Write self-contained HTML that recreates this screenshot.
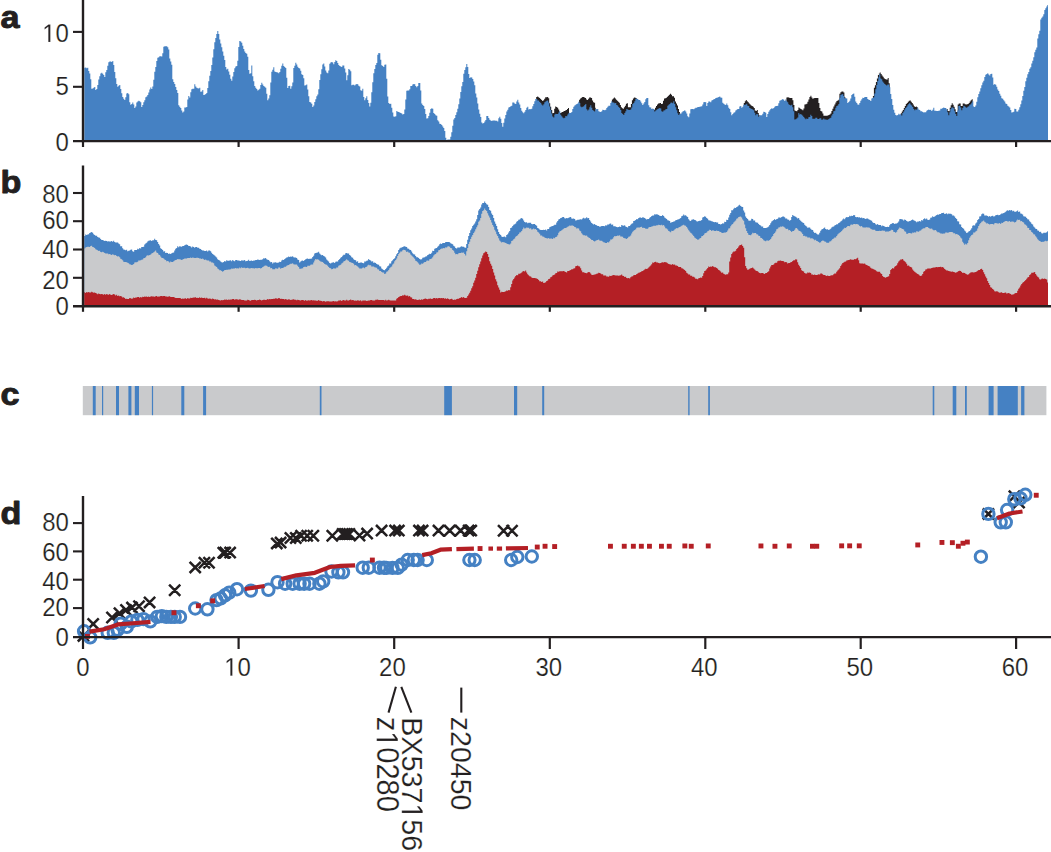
<!DOCTYPE html>
<html><head><meta charset="utf-8"><title>Figure</title>
<style>
html,body{margin:0;padding:0;background:#fff;}
body{width:1051px;height:852px;position:relative;overflow:hidden;font-family:"Liberation Sans",sans-serif;}
.t{font-family:"Liberation Sans",sans-serif;fill:#231f20;stroke:#fff;stroke-width:0.2;}
.g1{fill:#231f20;stroke:#fff;stroke-width:0.2;vector-effect:non-scaling-stroke;}
.tb{font-family:"Liberation Sans",sans-serif;font-weight:bold;fill:#231f20;stroke:#231f20;stroke-width:0.9;stroke-linejoin:round;}
</style></head><body>
<svg width="1051" height="852" viewBox="0 0 1051 852" style="position:absolute;left:0;top:0">
<rect width="1051" height="852" fill="#fff"/>
<path d="M536.2,141L536.2,96.9L537.2,96.9L537.2,96.6L538.2,96.6L538.2,97.3L539.2,97.3L539.2,98L540.2,98L540.2,99L541.2,99L541.2,100L542.2,100L542.2,101L543.2,101L543.2,100.2L544.2,100.2L544.2,98.7L545.2,98.7L545.2,97.3L546.2,97.3L546.2,97.2L547.2,97.2L547.2,97.1L548.2,97.1L548.2,98.2L549.2,98.2L549.2,103.2L550.2,103.2L550.2,106.8L551.2,106.8L551.2,110.1L552.2,110.1L552.2,113.3L553.2,113.3L553.2,112.9L554.2,112.9L554.2,108.7L555.2,108.7L555.2,106.6L556.2,106.6L556.2,106.9L557.2,106.9L557.2,107.7L558.2,107.7L558.2,109.6L559.2,109.6L559.2,111.5L559.7,111.5L559.7,141Z" fill="#231f20" />
<path d="M560,141L560,112.9L561,112.9L561,112.4L562,112.4L562,111.9L563,111.9L563,111.4L564,111.4L564,110.9L565,110.9L565,110.4L566,110.4L566,109.9L567,109.9L567,109.1L568,109.1L568,108.1L569,108.1L569,113.2L569.4,113.2L569.4,141Z" fill="#231f20" />
<path d="M579.1,141L579.1,99.7L580.1,99.7L580.1,98.4L581.1,98.4L581.1,97.7L582.1,97.7L582.1,97L583.1,97L583.1,97L584.1,97L584.1,97.4L585.1,97.4L585.1,97.9L586.1,97.9L586.1,99.4L587.1,99.4L587.1,100L588.1,100L588.1,98.8L589.1,98.8L589.1,97.6L590.1,97.6L590.1,97.6L591.1,97.6L591.1,98.1L592.1,98.1L592.1,100.6L593.1,100.6L593.1,102.3L594.1,102.3L594.1,102.8L595.1,102.8L595.1,107.7L595.7,107.7L595.7,141Z" fill="#231f20" />
<path d="M611.9,141L611.9,99.6L612.9,99.6L612.9,98.5L613.9,98.5L613.9,97.4L614.9,97.4L614.9,98.5L615.9,98.5L615.9,99.7L616.9,99.7L616.9,100.8L617.9,100.8L617.9,101.8L618.9,101.8L618.9,102.8L619.9,102.8L619.9,105.1L620.9,105.1L620.9,107.3L621.9,107.3L621.9,108.2L622.9,108.2L622.9,108.8L623.9,108.8L623.9,107.3L624.9,107.3L624.9,105.7L625.9,105.7L625.9,103.8L626.9,103.8L626.9,103.2L627.9,103.2L627.9,107.2L628.9,107.2L628.9,107.2L629.9,107.2L629.9,107.2L630.9,107.2L630.9,104.1L631.9,104.1L631.9,100.3L632.9,100.3L632.9,98.5L633.9,98.5L633.9,97.5L634.9,97.5L634.9,97.8L635.9,97.8L635.9,98.1L636.6,98.1L636.6,141Z" fill="#231f20" />
<path d="M654,141L654,109.8L655,109.8L655,107.8L656,107.8L656,106L657,106L657,104.5L658,104.5L658,103.6L659,103.6L659,103.3L660,103.3L660,103L661,103L661,104L662,104L662,103.7L663,103.7L663,100.8L664,100.8L664,98.6L665,98.6L665,98.2L666,98.2L666,97.8L667,97.8L667,96.8L668,96.8L668,95.8L669,95.8L669,94.8L670,94.8L670,93.8L671,93.8L671,94.8L672,94.8L672,96.2L673,96.2L673,96.2L674,96.2L674,97.7L675,97.7L675,101.4L676,101.4L676,103.5L677,103.5L677,105.6L678,105.6L678,109.1L679,109.1L679,112L680,112L680,113L680.2,113L680.2,141Z" fill="#231f20" />
<path d="M743.8,141L743.8,102.9L744.8,102.9L744.8,101.3L745.8,101.3L745.8,100.1L746.8,100.1L746.8,101.2L747.8,101.2L747.8,102.3L748.8,102.3L748.8,103.4L749.8,103.4L749.8,104.4L750.8,104.4L750.8,105.4L751.8,105.4L751.8,106.1L752.8,106.1L752.8,106.8L753.8,106.8L753.8,108L754.8,108L754.8,110.5L755.8,110.5L755.8,110.9L756.8,110.9L756.8,109.9L757.8,109.9L757.8,113.1L758.8,113.1L758.8,115L759.5,115L759.5,141Z" fill="#231f20" />
<path d="M786.4,141L786.4,97.6L787.4,97.6L787.4,97.2L788.4,97.2L788.4,97.6L789.4,97.6L789.4,97.9L790.4,97.9L790.4,97.9L791.4,97.9L791.4,97.9L792.4,97.9L792.4,100.2L793.4,100.2L793.4,105L794.4,105L794.4,110.6L795.4,110.6L795.4,111L796.4,111L796.4,111.3L797.4,111.3L797.4,109.9L798.4,109.9L798.4,107.4L799.4,107.4L799.4,108.2L800.4,108.2L800.4,109L801.4,109L801.4,109.6L802.4,109.6L802.4,110.3L803.4,110.3L803.4,108.5L804.4,108.5L804.4,104.6L805.4,104.6L805.4,104.2L806.4,104.2L806.4,103.7L807.4,103.7L807.4,101.7L808.4,101.7L808.4,99.5L809.4,99.5L809.4,97L810.4,97L810.4,95.8L811.4,95.8L811.4,97.4L812.4,97.4L812.4,98.7L813.4,98.7L813.4,98.3L814.4,98.3L814.4,97.9L815.4,97.9L815.4,97.9L816.4,97.9L816.4,97.9L817.4,97.9L817.4,97.9L818.4,97.9L818.4,102.9L819.4,102.9L819.4,107.9L820.4,107.9L820.4,110.9L821.4,110.9L821.4,111.4L822.4,111.4L822.4,113.4L823.4,113.4L823.4,115.7L824.4,115.7L824.4,115.7L825.4,115.7L825.4,115.7L826.4,115.7L826.4,115.7L827.4,115.7L827.4,115.4L828.4,115.4L828.4,114.9L829.4,114.9L829.4,114.4L830.4,114.4L830.4,113.4L831.4,113.4L831.4,110.9L832.4,110.9L832.4,108.7L833.4,108.7L833.4,106.6L834.4,106.6L834.4,104.6L835.4,104.6L835.4,102.6L836.4,102.6L836.4,101.1L837.4,101.1L837.4,100.4L838.4,100.4L838.4,99.8L839.4,99.8L839.4,93.7L840.4,93.7L840.4,92.2L841.4,92.2L841.4,91.5L842.4,91.5L842.4,91.4L843.4,91.4L843.4,92.4L844.4,92.4L844.4,97.2L845.4,97.2L845.4,98.5L845.6,98.5L845.6,141Z" fill="#231f20" />
<path d="M872.9,141L872.9,96.1L873.9,96.1L873.9,87.7L874.9,87.7L874.9,85.2L875.9,85.2L875.9,82.1L876.9,82.1L876.9,78.6L877.9,78.6L877.9,75.1L878.9,75.1L878.9,73.4L879.7,73.4L879.7,141Z" fill="#231f20" />
<path d="M879.7,141L879.7,72.6L880.7,72.6L880.7,74.1L881.7,74.1L881.7,75.5L882.7,75.5L882.7,76.8L883.7,76.8L883.7,78.2L884.7,78.2L884.7,78.9L885.7,78.9L885.7,79.6L886.7,79.6L886.7,79.5L887.7,79.5L887.7,78L888.7,78L888.7,83.3L889.7,83.3L889.7,87.1L889.7,87.1L889.7,141Z" fill="#231f20" />
<path d="M900.8,141L900.8,113.2L901.8,113.2L901.8,111.5L902.8,111.5L902.8,109.9L903.8,109.9L903.8,108.1L904.8,108.1L904.8,106.1L905.8,106.1L905.8,104.1L906.8,104.1L906.8,102.9L907.8,102.9L907.8,101.8L908.8,101.8L908.8,100.7L909.8,100.7L909.8,100.6L910.8,100.6L910.8,101.8L911.8,101.8L911.8,102.9L912.8,102.9L912.8,104.5L913.8,104.5L913.8,106.2L914.8,106.2L914.8,107L915.8,107L915.8,106.5L916.8,106.5L916.8,107.3L917.8,107.3L917.8,108L917.8,108L917.8,141Z" fill="#231f20" />
<path d="M946.7,141L946.7,108.9L947.7,108.9L947.7,110.9L948.7,110.9L948.7,111.3L949.7,111.3L949.7,107.8L950.7,107.8L950.7,105.2L951.7,105.2L951.7,103.2L952.7,103.2L952.7,104.7L953.7,104.7L953.7,106.8L954.7,106.8L954.7,109.3L955.7,109.3L955.7,112L956.7,112L956.7,111.9L957.7,111.9L957.7,104.4L958.7,104.4L958.7,103.4L959.7,103.4L959.7,103.5L960.7,103.5L960.7,106L961.7,106L961.7,105.9L962.7,105.9L962.7,103.4L963.7,103.4L963.7,103.5L964.7,103.5L964.7,104.2L965.7,104.2L965.7,104.6L966.7,104.6L966.7,104.3L967.7,104.3L967.7,103.9L968.7,103.9L968.7,102.9L969.7,102.9L969.7,101.5L970.7,101.5L970.7,100.3L971.7,100.3L971.7,99.3L972.7,99.3L972.7,106.3L973.3,106.3L973.3,141Z" fill="#231f20" />
<path d="M84.3,141L84.3,67.8L85.3,67.8L85.3,67.6L86.3,67.6L86.3,68.3L87.3,68.3L87.3,67.7L88.3,67.7L88.3,71.1L89.3,71.1L89.3,73.5L90.3,73.5L90.3,79.2L91.3,79.2L91.3,88.8L92.3,88.8L92.3,88.4L93.3,88.4L93.3,87.7L94.3,87.7L94.3,87.1L95.3,87.1L95.3,90.1L96.3,90.1L96.3,89.1L97.3,89.1L97.3,85L98.3,85L98.3,79.4L99.3,79.4L99.3,76.2L100.3,76.2L100.3,73.4L101.3,73.4L101.3,72.8L102.3,72.8L102.3,73.8L103.3,73.8L103.3,75.1L104.3,75.1L104.3,77L105.3,77L105.3,72.3L106.3,72.3L106.3,70L107.3,70L107.3,65.8L108.3,65.8L108.3,62.2L109.3,62.2L109.3,61.4L110.3,61.4L110.3,61.5L111.3,61.5L111.3,62L112.3,62L112.3,60.9L113.3,60.9L113.3,65.1L114.3,65.1L114.3,71.9L115.3,71.9L115.3,78.2L116.3,78.2L116.3,83.9L117.3,83.9L117.3,86.7L118.3,86.7L118.3,85.7L119.3,85.7L119.3,84.9L120.3,84.9L120.3,88.9L121.3,88.9L121.3,93.2L122.3,93.2L122.3,97L123.3,97L123.3,98.7L124.3,98.7L124.3,99.9L125.3,99.9L125.3,97.2L126.3,97.2L126.3,93.4L127.3,93.4L127.3,93L128.3,93L128.3,94.2L129.3,94.2L129.3,102.2L130.3,102.2L130.3,104.8L131.3,104.8L131.3,104L132.3,104L132.3,102.5L133.3,102.5L133.3,104.5L134.3,104.5L134.3,108.1L135.3,108.1L135.3,106.4L136.3,106.4L136.3,102.4L137.3,102.4L137.3,101.6L138.3,101.6L138.3,100.8L139.3,100.8L139.3,101.3L140.3,101.3L140.3,102.3L141.3,102.3L141.3,107.1L142.3,107.1L142.3,104.9L143.3,104.9L143.3,102.2L144.3,102.2L144.3,100.3L145.3,100.3L145.3,97.3L146.3,97.3L146.3,96.5L147.3,96.5L147.3,95L148.3,95L148.3,92.6L149.3,92.6L149.3,89.4L150.3,89.4L150.3,87.5L151.3,87.5L151.3,89.1L152.3,89.1L152.3,86.4L153.3,86.4L153.3,79.7L154.3,79.7L154.3,71.8L155.3,71.8L155.3,66.9L156.3,66.9L156.3,61.1L157.3,61.1L157.3,57.7L158.3,57.7L158.3,57.3L159.3,57.3L159.3,56.3L160.3,56.3L160.3,56.3L161.3,56.3L161.3,56.5L162.3,56.5L162.3,53.3L163.3,53.3L163.3,46.8L164.3,46.8L164.3,46.3L165.3,46.3L165.3,46.3L166.3,46.3L166.3,46.2L167.3,46.2L167.3,47.2L168.3,47.2L168.3,49.5L169.3,49.5L169.3,58.6L170.3,58.6L170.3,61.4L171.3,61.4L171.3,64.8L172.3,64.8L172.3,79.2L173.3,79.2L173.3,81.9L174.3,81.9L174.3,84L175.3,84L175.3,87L176.3,87L176.3,89.9L177.3,89.9L177.3,92.9L178.3,92.9L178.3,105.3L179.3,105.3L179.3,106.8L180.3,106.8L180.3,108L181.3,108L181.3,110.4L182.3,110.4L182.3,112.4L183.3,112.4L183.3,111.6L184.3,111.6L184.3,107.6L185.3,107.6L185.3,107.4L186.3,107.4L186.3,107L187.3,107L187.3,99.4L188.3,99.4L188.3,95.9L189.3,95.9L189.3,97.5L190.3,97.5L190.3,92.3L191.3,92.3L191.3,89.2L192.3,89.2L192.3,88.8L193.3,88.8L193.3,88.7L194.3,88.7L194.3,84.2L195.3,84.2L195.3,86.5L196.3,86.5L196.3,87.8L197.3,87.8L197.3,88.2L198.3,88.2L198.3,88.5L199.3,88.5L199.3,87.8L200.3,87.8L200.3,91.8L201.3,91.8L201.3,91.4L202.3,91.4L202.3,90L203.3,90L203.3,94.9L204.3,94.9L204.3,94.7L205.3,94.7L205.3,94.1L206.3,94.1L206.3,93.1L207.3,93.1L207.3,88.1L208.3,88.1L208.3,81.3L209.3,81.3L209.3,75.7L210.3,75.7L210.3,70.9L211.3,70.9L211.3,64.9L212.3,64.9L212.3,57.4L213.3,57.4L213.3,49.2L214.3,49.2L214.3,42.3L215.3,42.3L215.3,38L216.3,38L216.3,34L217.3,34L217.3,30.9L218.3,30.9L218.3,33.9L219.3,33.9L219.3,39.6L220.3,39.6L220.3,43.6L221.3,43.6L221.3,47.3L222.3,47.3L222.3,51.5L223.3,51.5L223.3,55.7L224.3,55.7L224.3,59.9L225.3,59.9L225.3,67.1L226.3,67.1L226.3,69.6L227.3,69.6L227.3,68.8L228.3,68.8L228.3,71.4L229.3,71.4L229.3,74.8L230.3,74.8L230.3,78.7L231.3,78.7L231.3,80.8L232.3,80.8L232.3,76.6L233.3,76.6L233.3,72L234.3,72L234.3,68.3L235.3,68.3L235.3,66.5L236.3,66.5L236.3,65.9L237.3,65.9L237.3,60.8L238.3,60.8L238.3,46.9L239.3,46.9L239.3,40.9L240.3,40.9L240.3,41.6L241.3,41.6L241.3,42.8L242.3,42.8L242.3,45.7L243.3,45.7L243.3,49L244.3,49L244.3,51.5L245.3,51.5L245.3,53.1L246.3,53.1L246.3,53.8L247.3,53.8L247.3,56.8L248.3,56.8L248.3,70L249.3,70L249.3,73.8L250.3,73.8L250.3,73.3L251.3,73.3L251.3,65.4L252.3,65.4L252.3,76.2L253.3,76.2L253.3,81.2L254.3,81.2L254.3,86L255.3,86L255.3,87.7L256.3,87.7L256.3,89L257.3,89L257.3,90.5L258.3,90.5L258.3,89.8L259.3,89.8L259.3,88.7L260.3,88.7L260.3,85L261.3,85L261.3,82.7L262.3,82.7L262.3,84.5L263.3,84.5L263.3,86L264.3,86L264.3,86.8L265.3,86.8L265.3,87.8L266.3,87.8L266.3,93.8L267.3,93.8L267.3,100.3L268.3,100.3L268.3,98.4L269.3,98.4L269.3,95.3L270.3,95.3L270.3,82.4L271.3,82.4L271.3,71.7L272.3,71.7L272.3,69.7L273.3,69.7L273.3,67.3L274.3,67.3L274.3,71.4L275.3,71.4L275.3,72.1L276.3,72.1L276.3,72.3L277.3,72.3L277.3,72.5L278.3,72.5L278.3,73.3L279.3,73.3L279.3,71.9L280.3,71.9L280.3,68.8L281.3,68.8L281.3,65.8L282.3,65.8L282.3,63.5L283.3,63.5L283.3,66.1L284.3,66.1L284.3,66.9L285.3,66.9L285.3,68.1L286.3,68.1L286.3,77.8L287.3,77.8L287.3,88L288.3,88L288.3,85.9L289.3,85.9L289.3,85.7L290.3,85.7L290.3,88.8L291.3,88.8L291.3,86.3L292.3,86.3L292.3,82.4L293.3,82.4L293.3,68.1L294.3,68.1L294.3,65.7L295.3,65.7L295.3,62.7L296.3,62.7L296.3,64.4L297.3,64.4L297.3,66.8L298.3,66.8L298.3,67.9L299.3,67.9L299.3,68.4L300.3,68.4L300.3,70.7L301.3,70.7L301.3,74.3L302.3,74.3L302.3,74.9L303.3,74.9L303.3,78.3L304.3,78.3L304.3,85.4L305.3,85.4L305.3,85.3L306.3,85.3L306.3,84.6L307.3,84.6L307.3,89.4L308.3,89.4L308.3,96.2L309.3,96.2L309.3,102L310.3,102L310.3,102.6L311.3,102.6L311.3,103.7L312.3,103.7L312.3,107L313.3,107L313.3,105.6L314.3,105.6L314.3,102.1L315.3,102.1L315.3,99.3L316.3,99.3L316.3,96.3L317.3,96.3L317.3,94.6L318.3,94.6L318.3,89.3L319.3,89.3L319.3,80L320.3,80L320.3,74.2L321.3,74.2L321.3,69.2L322.3,69.2L322.3,64.6L323.3,64.6L323.3,63.5L324.3,63.5L324.3,66.5L325.3,66.5L325.3,70.4L326.3,70.4L326.3,72.6L327.3,72.6L327.3,73.2L328.3,73.2L328.3,70.4L329.3,70.4L329.3,63.7L330.3,63.7L330.3,62.5L331.3,62.5L331.3,62.1L332.3,62.1L332.3,62.6L333.3,62.6L333.3,64.2L334.3,64.2L334.3,61.9L335.3,61.9L335.3,60.3L336.3,60.3L336.3,61.1L337.3,61.1L337.3,62.9L338.3,62.9L338.3,64.9L339.3,64.9L339.3,65.9L340.3,65.9L340.3,66.4L341.3,66.4L341.3,67L342.3,67L342.3,65.6L343.3,65.6L343.3,65.5L344.3,65.5L344.3,68.6L345.3,68.6L345.3,72.5L346.3,72.5L346.3,80.3L347.3,80.3L347.3,75.3L348.3,75.3L348.3,69.1L349.3,69.1L349.3,69.8L350.3,69.8L350.3,71.3L351.3,71.3L351.3,85.2L352.3,85.2L352.3,84.8L353.3,84.8L353.3,84.8L354.3,84.8L354.3,85.5L355.3,85.5L355.3,84.5L356.3,84.5L356.3,84L357.3,84L357.3,84.2L358.3,84.2L358.3,85.7L359.3,85.7L359.3,86.4L360.3,86.4L360.3,90.2L361.3,90.2L361.3,90.8L362.3,90.8L362.3,88.8L363.3,88.8L363.3,96.9L364.3,96.9L364.3,100.2L365.3,100.2L365.3,98.3L366.3,98.3L366.3,96.2L367.3,96.2L367.3,100.1L368.3,100.1L368.3,103.1L369.3,103.1L369.3,106.4L370.3,106.4L370.3,102.7L371.3,102.7L371.3,92.2L372.3,92.2L372.3,82.3L373.3,82.3L373.3,73.3L374.3,73.3L374.3,69.1L375.3,69.1L375.3,65L376.3,65L376.3,63L377.3,63L377.3,54.8L378.3,54.8L378.3,53L379.3,53L379.3,53.3L380.3,53.3L380.3,59.8L381.3,59.8L381.3,65.2L382.3,65.2L382.3,66.1L383.3,66.1L383.3,66.9L384.3,66.9L384.3,64.8L385.3,64.8L385.3,64.5L386.3,64.5L386.3,78.8L387.3,78.8L387.3,96.4L388.3,96.4L388.3,103.1L389.3,103.1L389.3,103.9L390.3,103.9L390.3,103.8L391.3,103.8L391.3,107.8L392.3,107.8L392.3,112.5L393.3,112.5L393.3,116.4L394.3,116.4L394.3,116.8L395.3,116.8L395.3,116.2L396.3,116.2L396.3,111.1L397.3,111.1L397.3,111.7L398.3,111.7L398.3,112.1L399.3,112.1L399.3,112.4L400.3,112.4L400.3,113.1L401.3,113.1L401.3,113.6L402.3,113.6L402.3,114.6L403.3,114.6L403.3,114L404.3,114L404.3,109.6L405.3,109.6L405.3,99.5L406.3,99.5L406.3,90.8L407.3,90.8L407.3,90.5L408.3,90.5L408.3,90.6L409.3,90.6L409.3,89.2L410.3,89.2L410.3,86.1L411.3,86.1L411.3,85.9L412.3,85.9L412.3,84.4L413.3,84.4L413.3,83.9L414.3,83.9L414.3,84.2L415.3,84.2L415.3,85.9L416.3,85.9L416.3,87.3L417.3,87.3L417.3,86.1L418.3,86.1L418.3,83.1L419.3,83.1L419.3,82.9L420.3,82.9L420.3,90.6L421.3,90.6L421.3,103.5L422.3,103.5L422.3,105L423.3,105L423.3,105.9L424.3,105.9L424.3,109.1L425.3,109.1L425.3,114L426.3,114L426.3,118.6L427.3,118.6L427.3,118.2L428.3,118.2L428.3,115.9L429.3,115.9L429.3,112.7L430.3,112.7L430.3,109.1L431.3,109.1L431.3,108.3L432.3,108.3L432.3,108.7L433.3,108.7L433.3,112.9L434.3,112.9L434.3,114.1L435.3,114.1L435.3,115.3L436.3,115.3L436.3,115.7L437.3,115.7L437.3,120.3L438.3,120.3L438.3,121.6L439.3,121.6L439.3,123.7L440.3,123.7L440.3,124.1L441.3,124.1L441.3,125L442.3,125L442.3,126.4L443.3,126.4L443.3,128.1L444.3,128.1L444.3,130.9L445.3,130.9L445.3,137.7L446.3,137.7L446.3,140L447.3,140L447.3,139.5L448.3,139.5L448.3,139.4L449.3,139.4L449.3,139.4L450.3,139.4L450.3,136.7L451.3,136.7L451.3,132.2L452.3,132.2L452.3,125.8L453.3,125.8L453.3,119.5L454.3,119.5L454.3,118.1L455.3,118.1L455.3,115L456.3,115L456.3,112.3L457.3,112.3L457.3,108.8L458.3,108.8L458.3,104.3L459.3,104.3L459.3,98.5L460.3,98.5L460.3,92L461.3,92L461.3,86.3L462.3,86.3L462.3,82L463.3,82L463.3,73.8L464.3,73.8L464.3,70L465.3,70L465.3,67.2L466.3,67.2L466.3,64.1L467.3,64.1L467.3,67L468.3,67L468.3,74L469.3,74L469.3,77.9L470.3,77.9L470.3,77.2L471.3,77.2L471.3,77.6L472.3,77.6L472.3,79L473.3,79L473.3,81.4L474.3,81.4L474.3,85.3L475.3,85.3L475.3,93.5L476.3,93.5L476.3,97.6L477.3,97.6L477.3,103.6L478.3,103.6L478.3,109.4L479.3,109.4L479.3,113.8L480.3,113.8L480.3,117L481.3,117L481.3,122.4L482.3,122.4L482.3,123.4L483.3,123.4L483.3,123.1L484.3,123.1L484.3,121.6L485.3,121.6L485.3,120L486.3,120L486.3,116L487.3,116L487.3,115.9L488.3,115.9L488.3,117.9L489.3,117.9L489.3,119.7L490.3,119.7L490.3,120.5L491.3,120.5L491.3,121L492.3,121L492.3,120.5L493.3,120.5L493.3,120.5L494.3,120.5L494.3,120.6L495.3,120.6L495.3,120.8L496.3,120.8L496.3,120.7L497.3,120.7L497.3,121.6L498.3,121.6L498.3,118.3L499.3,118.3L499.3,116.8L500.3,116.8L500.3,118.8L501.3,118.8L501.3,123L502.3,123L502.3,126.7L503.3,126.7L503.3,122.7L504.3,122.7L504.3,118.4L505.3,118.4L505.3,115.1L506.3,115.1L506.3,111.6L507.3,111.6L507.3,109.8L508.3,109.8L508.3,107.6L509.3,107.6L509.3,107L510.3,107L510.3,106.2L511.3,106.2L511.3,105.7L512.3,105.7L512.3,102.5L513.3,102.5L513.3,102.4L514.3,102.4L514.3,103.4L515.3,103.4L515.3,103.9L516.3,103.9L516.3,101.6L517.3,101.6L517.3,99.8L518.3,99.8L518.3,102.4L519.3,102.4L519.3,104.6L520.3,104.6L520.3,107.9L521.3,107.9L521.3,110.7L522.3,110.7L522.3,112.2L523.3,112.2L523.3,113.2L524.3,113.2L524.3,111.7L525.3,111.7L525.3,109.9L526.3,109.9L526.3,107.8L527.3,107.8L527.3,106.8L528.3,106.8L528.3,109.4L529.3,109.4L529.3,109.1L530.3,109.1L530.3,109.3L531.3,109.3L531.3,108.7L532.3,108.7L532.3,106.3L533.3,106.3L533.3,104.1L534.3,104.1L534.3,101.3L535.3,101.3L535.3,98.9L536.3,98.9L536.3,99.1L537.3,99.1L537.3,100.4L538.3,100.4L538.3,100.4L539.3,100.4L539.3,102L540.3,102L540.3,103L541.3,103L541.3,104.4L542.3,104.4L542.3,105.4L543.3,105.4L543.3,104.3L544.3,104.3L544.3,102.3L545.3,102.3L545.3,101.4L546.3,101.4L546.3,100.8L547.3,100.8L547.3,100.4L548.3,100.4L548.3,102.6L549.3,102.6L549.3,106.4L550.3,106.4L550.3,109.9L551.3,109.9L551.3,113.5L552.3,113.5L552.3,116.5L553.3,116.5L553.3,117.5L554.3,117.5L554.3,114.6L555.3,114.6L555.3,113.7L556.3,113.7L556.3,114.1L557.3,114.1L557.3,114.1L558.3,114.1L558.3,112.6L559.3,112.6L559.3,111.3L560.3,111.3L560.3,114.8L561.3,114.8L561.3,116.2L562.3,116.2L562.3,117.4L563.3,117.4L563.3,118.2L564.3,118.2L564.3,117.7L565.3,117.7L565.3,116.1L566.3,116.1L566.3,116.3L567.3,116.3L567.3,114.5L568.3,114.5L568.3,113.2L569.3,113.2L569.3,112.7L570.3,112.7L570.3,113L571.3,113L571.3,112L572.3,112L572.3,109L573.3,109L573.3,106.8L574.3,106.8L574.3,105.5L575.3,105.5L575.3,104.8L576.3,104.8L576.3,104.1L577.3,104.1L577.3,103.4L578.3,103.4L578.3,101.7L579.3,101.7L579.3,103.1L580.3,103.1L580.3,106.6L581.3,106.6L581.3,107.3L582.3,107.3L582.3,106.8L583.3,106.8L583.3,106.2L584.3,106.2L584.3,105L585.3,105L585.3,104L586.3,104L586.3,109.3L587.3,109.3L587.3,110.4L588.3,110.4L588.3,109.5L589.3,109.5L589.3,107.2L590.3,107.2L590.3,105.3L591.3,105.3L591.3,107.7L592.3,107.7L592.3,110L593.3,110L593.3,110.8L594.3,110.8L594.3,111.6L595.3,111.6L595.3,108.9L596.3,108.9L596.3,109.2L597.3,109.2L597.3,109.1L598.3,109.1L598.3,111.3L599.3,111.3L599.3,111.7L600.3,111.7L600.3,112L601.3,112L601.3,111.2L602.3,111.2L602.3,109.7L603.3,109.7L603.3,110.1L604.3,110.1L604.3,110.3L605.3,110.3L605.3,109.8L606.3,109.8L606.3,108.1L607.3,108.1L607.3,106.8L608.3,106.8L608.3,105.7L609.3,105.7L609.3,105.8L610.3,105.8L610.3,103L611.3,103L611.3,101.2L612.3,101.2L612.3,102.5L613.3,102.5L613.3,102.6L614.3,102.6L614.3,103.2L615.3,103.2L615.3,103L616.3,103L616.3,105L617.3,105L617.3,105.6L618.3,105.6L618.3,107.1L619.3,107.1L619.3,108.1L620.3,108.1L620.3,110L621.3,110L621.3,113L622.3,113L622.3,114.1L623.3,114.1L623.3,115.1L624.3,115.1L624.3,112.9L625.3,112.9L625.3,111.2L626.3,111.2L626.3,109.1L627.3,109.1L627.3,109.5L628.3,109.5L628.3,110.1L629.3,110.1L629.3,110L630.3,110L630.3,109.4L631.3,109.4L631.3,107.6L632.3,107.6L632.3,104.1L633.3,104.1L633.3,103.1L634.3,103.1L634.3,101.3L635.3,101.3L635.3,98.8L636.3,98.8L636.3,98.8L637.3,98.8L637.3,98.9L638.3,98.9L638.3,100L639.3,100L639.3,99.9L640.3,99.9L640.3,101.5L641.3,101.5L641.3,103.2L642.3,103.2L642.3,105.1L643.3,105.1L643.3,103.4L644.3,103.4L644.3,101.9L645.3,101.9L645.3,99.2L646.3,99.2L646.3,98L647.3,98L647.3,98.1L648.3,98.1L648.3,105.2L649.3,105.2L649.3,107.2L650.3,107.2L650.3,107.5L651.3,107.5L651.3,109L652.3,109L652.3,108.6L653.3,108.6L653.3,109.1L654.3,109.1L654.3,111.5L655.3,111.5L655.3,110.6L656.3,110.6L656.3,109.7L657.3,109.7L657.3,109L658.3,109L658.3,108.5L659.3,108.5L659.3,108L660.3,108L660.3,108.4L661.3,108.4L661.3,111.3L662.3,111.3L662.3,111.7L663.3,111.7L663.3,110.4L664.3,110.4L664.3,110.2L665.3,110.2L665.3,109.3L666.3,109.3L666.3,109.1L667.3,109.1L667.3,105.8L668.3,105.8L668.3,104.7L669.3,104.7L669.3,103.9L670.3,103.9L670.3,102.8L671.3,102.8L671.3,102.5L672.3,102.5L672.3,103.3L673.3,103.3L673.3,101.2L674.3,101.2L674.3,104.1L675.3,104.1L675.3,107.3L676.3,107.3L676.3,110.2L677.3,110.2L677.3,113.3L678.3,113.3L678.3,115.1L679.3,115.1L679.3,113.5L680.3,113.5L680.3,114.1L681.3,114.1L681.3,112.4L682.3,112.4L682.3,111.5L683.3,111.5L683.3,110.9L684.3,110.9L684.3,110.3L685.3,110.3L685.3,111.5L686.3,111.5L686.3,113.5L687.3,113.5L687.3,116.2L688.3,116.2L688.3,117.3L689.3,117.3L689.3,113.6L690.3,113.6L690.3,109.2L691.3,109.2L691.3,108.9L692.3,108.9L692.3,108.9L693.3,108.9L693.3,109.2L694.3,109.2L694.3,108.6L695.3,108.6L695.3,107.8L696.3,107.8L696.3,107.7L697.3,107.7L697.3,107.1L698.3,107.1L698.3,107.1L699.3,107.1L699.3,106.8L700.3,106.8L700.3,106.5L701.3,106.5L701.3,106.3L702.3,106.3L702.3,104.6L703.3,104.6L703.3,102.2L704.3,102.2L704.3,102L705.3,102L705.3,102.2L706.3,102.2L706.3,106.1L707.3,106.1L707.3,102.9L708.3,102.9L708.3,101.4L709.3,101.4L709.3,101.6L710.3,101.6L710.3,102.3L711.3,102.3L711.3,100.4L712.3,100.4L712.3,100L713.3,100L713.3,99.2L714.3,99.2L714.3,99.1L715.3,99.1L715.3,97.9L716.3,97.9L716.3,97.7L717.3,97.7L717.3,97.4L718.3,97.4L718.3,97L719.3,97L719.3,96.6L720.3,96.6L720.3,97.5L721.3,97.5L721.3,97.8L722.3,97.8L722.3,102.8L723.3,102.8L723.3,103.7L724.3,103.7L724.3,104.6L725.3,104.6L725.3,104.9L726.3,104.9L726.3,103.6L727.3,103.6L727.3,105.3L728.3,105.3L728.3,107.8L729.3,107.8L729.3,109L730.3,109L730.3,112.2L731.3,112.2L731.3,115.3L732.3,115.3L732.3,113.9L733.3,113.9L733.3,112.7L734.3,112.7L734.3,112.2L735.3,112.2L735.3,110.6L736.3,110.6L736.3,109.7L737.3,109.7L737.3,109.1L738.3,109.1L738.3,108.9L739.3,108.9L739.3,106.6L740.3,106.6L740.3,106L741.3,106L741.3,107.7L742.3,107.7L742.3,106.8L743.3,106.8L743.3,104.7L744.3,104.7L744.3,104.8L745.3,104.8L745.3,104.4L746.3,104.4L746.3,103.7L747.3,103.7L747.3,105.7L748.3,105.7L748.3,106L749.3,106L749.3,107.9L750.3,107.9L750.3,108.6L751.3,108.6L751.3,109L752.3,109L752.3,109.4L753.3,109.4L753.3,110.2L754.3,110.2L754.3,112.8L755.3,112.8L755.3,115.3L756.3,115.3L756.3,114L757.3,114L757.3,114.2L758.3,114.2L758.3,116.7L759.3,116.7L759.3,115.3L760.3,115.3L760.3,115.3L761.3,115.3L761.3,115.3L762.3,115.3L762.3,113.8L763.3,113.8L763.3,111.7L764.3,111.7L764.3,112.1L765.3,112.1L765.3,112.8L766.3,112.8L766.3,117L767.3,117L767.3,114L768.3,114L768.3,111.8L769.3,111.8L769.3,110.2L770.3,110.2L770.3,108.9L771.3,108.9L771.3,108.2L772.3,108.2L772.3,108.7L773.3,108.7L773.3,107.9L774.3,107.9L774.3,106.8L775.3,106.8L775.3,105.9L776.3,105.9L776.3,106.1L777.3,106.1L777.3,105.8L778.3,105.8L778.3,103.2L779.3,103.2L779.3,100.8L780.3,100.8L780.3,100.3L781.3,100.3L781.3,99.7L782.3,99.7L782.3,99L783.3,99L783.3,99.7L784.3,99.7L784.3,100.9L785.3,100.9L785.3,99.4L786.3,99.4L786.3,101.2L787.3,101.2L787.3,102.2L788.3,102.2L788.3,104.2L789.3,104.2L789.3,105.1L790.3,105.1L790.3,105.6L791.3,105.6L791.3,104.7L792.3,104.7L792.3,107.3L793.3,107.3L793.3,111.3L794.3,111.3L794.3,119.6L795.3,119.6L795.3,119.2L796.3,119.2L796.3,118.5L797.3,118.5L797.3,117.5L798.3,117.5L798.3,113.1L799.3,113.1L799.3,114.4L800.3,114.4L800.3,114.1L801.3,114.1L801.3,114.7L802.3,114.7L802.3,115.7L803.3,115.7L803.3,117L804.3,117L804.3,118.3L805.3,118.3L805.3,119.3L806.3,119.3L806.3,118.5L807.3,118.5L807.3,119L808.3,119L808.3,117.3L809.3,117.3L809.3,117L810.3,117L810.3,114.8L811.3,114.8L811.3,116.1L812.3,116.1L812.3,118.7L813.3,118.7L813.3,118.7L814.3,118.7L814.3,118.7L815.3,118.7L815.3,117.7L816.3,117.7L816.3,117.7L817.3,117.7L817.3,119L818.3,119L818.3,119.1L819.3,119.1L819.3,118.2L820.3,118.2L820.3,118.2L821.3,118.2L821.3,119.7L822.3,119.7L822.3,119.6L823.3,119.6L823.3,118.6L824.3,118.6L824.3,119.6L825.3,119.6L825.3,119.5L826.3,119.5L826.3,119.8L827.3,119.8L827.3,119.7L828.3,119.7L828.3,118.9L829.3,118.9L829.3,118.2L830.3,118.2L830.3,117.8L831.3,117.8L831.3,115.4L832.3,115.4L832.3,114.1L833.3,114.1L833.3,111.3L834.3,111.3L834.3,110.7L835.3,110.7L835.3,107.7L836.3,107.7L836.3,106.1L837.3,106.1L837.3,105.4L838.3,105.4L838.3,104.1L839.3,104.1L839.3,97.8L840.3,97.8L840.3,94.7L841.3,94.7L841.3,94.6L842.3,94.6L842.3,94.1L843.3,94.1L843.3,95.9L844.3,95.9L844.3,98.2L845.3,98.2L845.3,98.2L846.3,98.2L846.3,98.5L847.3,98.5L847.3,103L848.3,103L848.3,101.9L849.3,101.9L849.3,100.8L850.3,100.8L850.3,98.6L851.3,98.6L851.3,95.1L852.3,95.1L852.3,94.1L853.3,94.1L853.3,93.5L854.3,93.5L854.3,96.8L855.3,96.8L855.3,101.4L856.3,101.4L856.3,103.1L857.3,103.1L857.3,104.4L858.3,104.4L858.3,104.8L859.3,104.8L859.3,103L860.3,103L860.3,100.7L861.3,100.7L861.3,99.3L862.3,99.3L862.3,97.8L863.3,97.8L863.3,97.9L864.3,97.9L864.3,97L865.3,97L865.3,96.9L866.3,96.9L866.3,97.1L867.3,97.1L867.3,98.9L868.3,98.9L868.3,99.8L869.3,99.8L869.3,100L870.3,100L870.3,100.9L871.3,100.9L871.3,98.6L872.3,98.6L872.3,97.9L873.3,97.9L873.3,97.2L874.3,97.2L874.3,93.5L875.3,93.5L875.3,89.3L876.3,89.3L876.3,85L877.3,85L877.3,81.1L878.3,81.1L878.3,77.3L879.3,77.3L879.3,74.2L880.3,74.2L880.3,78.6L881.3,78.6L881.3,79.3L882.3,79.3L882.3,81.5L883.3,81.5L883.3,82.7L884.3,82.7L884.3,83.9L885.3,83.9L885.3,84.7L886.3,84.7L886.3,85.4L887.3,85.4L887.3,84.5L888.3,84.5L888.3,84.6L889.3,84.6L889.3,87.3L890.3,87.3L890.3,93.9L891.3,93.9L891.3,98.9L892.3,98.9L892.3,105L893.3,105L893.3,109.8L894.3,109.8L894.3,112.7L895.3,112.7L895.3,114.9L896.3,114.9L896.3,115.4L897.3,115.4L897.3,115.1L898.3,115.1L898.3,113.8L899.3,113.8L899.3,114.4L900.3,114.4L900.3,113.9L901.3,113.9L901.3,115.4L902.3,115.4L902.3,113.1L903.3,113.1L903.3,111.5L904.3,111.5L904.3,109.6L905.3,109.6L905.3,108.1L906.3,108.1L906.3,106.8L907.3,106.8L907.3,105.3L908.3,105.3L908.3,103.9L909.3,103.9L909.3,103L910.3,103L910.3,104.4L911.3,104.4L911.3,105.6L912.3,105.6L912.3,107.1L913.3,107.1L913.3,108.9L914.3,108.9L914.3,110.3L915.3,110.3L915.3,109.3L916.3,109.3L916.3,109.7L917.3,109.7L917.3,107.7L918.3,107.7L918.3,109.4L919.3,109.4L919.3,110.1L920.3,110.1L920.3,111.3L921.3,111.3L921.3,111.3L922.3,111.3L922.3,112.1L923.3,112.1L923.3,112.6L924.3,112.6L924.3,112.2L925.3,112.2L925.3,112.2L926.3,112.2L926.3,110.8L927.3,110.8L927.3,109.9L928.3,109.9L928.3,109.5L929.3,109.5L929.3,109.9L930.3,109.9L930.3,109.8L931.3,109.8L931.3,110.9L932.3,110.9L932.3,109.8L933.3,109.8L933.3,107.8L934.3,107.8L934.3,110.8L935.3,110.8L935.3,110.8L936.3,110.8L936.3,111L937.3,111L937.3,111.1L938.3,111.1L938.3,110.8L939.3,110.8L939.3,110.5L940.3,110.5L940.3,108.8L941.3,108.8L941.3,108.8L942.3,108.8L942.3,108L943.3,108L943.3,107.4L944.3,107.4L944.3,107.9L945.3,107.9L945.3,108.1L946.3,108.1L946.3,109.4L947.3,109.4L947.3,112.3L948.3,112.3L948.3,115.2L949.3,115.2L949.3,112.3L950.3,112.3L950.3,108.9L951.3,108.9L951.3,107.6L952.3,107.6L952.3,107.5L953.3,107.5L953.3,108.3L954.3,108.3L954.3,111.3L955.3,111.3L955.3,113.9L956.3,113.9L956.3,115.9L957.3,115.9L957.3,110.6L958.3,110.6L958.3,106.1L959.3,106.1L959.3,105.7L960.3,105.7L960.3,107.6L961.3,107.6L961.3,110.3L962.3,110.3L962.3,107.9L963.3,107.9L963.3,105.8L964.3,105.8L964.3,106.2L965.3,106.2L965.3,107.3L966.3,107.3L966.3,107.7L967.3,107.7L967.3,106.7L968.3,106.7L968.3,106.3L969.3,106.3L969.3,104.8L970.3,104.8L970.3,104.3L971.3,104.3L971.3,102.8L972.3,102.8L972.3,101.2L973.3,101.2L973.3,106.7L974.3,106.7L974.3,107.1L975.3,107.1L975.3,105.6L976.3,105.6L976.3,101.7L977.3,101.7L977.3,97.3L978.3,97.3L978.3,93.9L979.3,93.9L979.3,91.6L980.3,91.6L980.3,88.2L981.3,88.2L981.3,85.2L982.3,85.2L982.3,82.6L983.3,82.6L983.3,80.8L984.3,80.8L984.3,77L985.3,77L985.3,74.8L986.3,74.8L986.3,73.9L987.3,73.9L987.3,73.3L988.3,73.3L988.3,74.4L989.3,74.4L989.3,75.6L990.3,75.6L990.3,73.9L991.3,73.9L991.3,73.8L992.3,73.8L992.3,77.5L993.3,77.5L993.3,84.7L994.3,84.7L994.3,84L995.3,84L995.3,84.8L996.3,84.8L996.3,86.7L997.3,86.7L997.3,89.6L998.3,89.6L998.3,91L999.3,91L999.3,93.7L1000.3,93.7L1000.3,95.8L1001.3,95.8L1001.3,98.3L1002.3,98.3L1002.3,98.7L1003.3,98.7L1003.3,100.2L1004.3,100.2L1004.3,101.5L1005.3,101.5L1005.3,103.5L1006.3,103.5L1006.3,104L1007.3,104L1007.3,105.8L1008.3,105.8L1008.3,106.4L1009.3,106.4L1009.3,107.6L1010.3,107.6L1010.3,109.9L1011.3,109.9L1011.3,112.6L1012.3,112.6L1012.3,112.2L1013.3,112.2L1013.3,111.8L1014.3,111.8L1014.3,108.7L1015.3,108.7L1015.3,108.9L1016.3,108.9L1016.3,111.4L1017.3,111.4L1017.3,111.6L1018.3,111.6L1018.3,109.7L1019.3,109.7L1019.3,107.2L1020.3,107.2L1020.3,104.3L1021.3,104.3L1021.3,100.6L1022.3,100.6L1022.3,96.1L1023.3,96.1L1023.3,90.8L1024.3,90.8L1024.3,87L1025.3,87L1025.3,81.3L1026.3,81.3L1026.3,77.7L1027.3,77.7L1027.3,74.3L1028.3,74.3L1028.3,72.1L1029.3,72.1L1029.3,68.8L1030.3,68.8L1030.3,67.3L1031.3,67.3L1031.3,63.5L1032.3,63.5L1032.3,60.7L1033.3,60.7L1033.3,57.2L1034.3,57.2L1034.3,52.2L1035.3,52.2L1035.3,49.8L1036.3,49.8L1036.3,47.5L1037.3,47.5L1037.3,38.4L1038.3,38.4L1038.3,34.3L1039.3,34.3L1039.3,30.8L1040.3,30.8L1040.3,19.6L1041.3,19.6L1041.3,17.8L1042.3,17.8L1042.3,16.4L1043.3,16.4L1043.3,14.2L1044.3,14.2L1044.3,10L1045.3,10L1045.3,8.3L1046.3,8.3L1046.3,6.6L1047.3,6.6L1047.3,5L1048,5L1048,141Z" fill="#4581c3" />
<path d="M84.2,306L84.2,236L85.2,236L85.2,234.6L86.2,234.6L86.2,234.9L87.2,234.9L87.2,234.5L88.2,234.5L88.2,234.2L89.2,234.2L89.2,233.1L90.2,233.1L90.2,232.5L91.2,232.5L91.2,232.1L92.2,232.1L92.2,232.7L93.2,232.7L93.2,234.2L94.2,234.2L94.2,235L95.2,235L95.2,235.8L96.2,235.8L96.2,235.7L97.2,235.7L97.2,237.1L98.2,237.1L98.2,237.4L99.2,237.4L99.2,237.7L100.2,237.7L100.2,239.1L101.2,239.1L101.2,239.9L102.2,239.9L102.2,240.1L103.2,240.1L103.2,240.5L104.2,240.5L104.2,241.1L105.2,241.1L105.2,240.8L106.2,240.8L106.2,240.9L107.2,240.9L107.2,241.5L108.2,241.5L108.2,241.2L109.2,241.2L109.2,241.6L110.2,241.6L110.2,241.6L111.2,241.6L111.2,240.9L112.2,240.9L112.2,241.7L113.2,241.7L113.2,240.8L114.2,240.8L114.2,241.9L115.2,241.9L115.2,242.5L116.2,242.5L116.2,242.6L117.2,242.6L117.2,242.4L118.2,242.4L118.2,243.5L119.2,243.5L119.2,244.2L120.2,244.2L120.2,246.2L121.2,246.2L121.2,246.2L122.2,246.2L122.2,248.3L123.2,248.3L123.2,249.6L124.2,249.6L124.2,249.7L125.2,249.7L125.2,250.2L126.2,250.2L126.2,249.7L127.2,249.7L127.2,251.2L128.2,251.2L128.2,250.7L129.2,250.7L129.2,250.4L130.2,250.4L130.2,249.8L131.2,249.8L131.2,249.5L132.2,249.5L132.2,251.2L133.2,251.2L133.2,251.7L134.2,251.7L134.2,250L135.2,250L135.2,249.9L136.2,249.9L136.2,249.9L137.2,249.9L137.2,248.7L138.2,248.7L138.2,249.3L139.2,249.3L139.2,248L140.2,248L140.2,248.4L141.2,248.4L141.2,247L142.2,247L142.2,247.1L143.2,247.1L143.2,246.7L144.2,246.7L144.2,244.6L145.2,244.6L145.2,243.5L146.2,243.5L146.2,242.7L147.2,242.7L147.2,241.5L148.2,241.5L148.2,240.7L149.2,240.7L149.2,240.6L150.2,240.6L150.2,240.2L151.2,240.2L151.2,240.9L152.2,240.9L152.2,240.2L153.2,240.2L153.2,240.2L154.2,240.2L154.2,238.8L155.2,238.8L155.2,240.1L156.2,240.1L156.2,240.3L157.2,240.3L157.2,242L158.2,242L158.2,243.9L159.2,243.9L159.2,245.5L160.2,245.5L160.2,248.2L161.2,248.2L161.2,248.9L162.2,248.9L162.2,250L163.2,250L163.2,251.4L164.2,251.4L164.2,251.3L165.2,251.3L165.2,252.9L166.2,252.9L166.2,252.8L167.2,252.8L167.2,252.9L168.2,252.9L168.2,253.9L169.2,253.9L169.2,253.4L170.2,253.4L170.2,254.1L171.2,254.1L171.2,253.3L172.2,253.3L172.2,252.7L173.2,252.7L173.2,252.5L174.2,252.5L174.2,250.6L175.2,250.6L175.2,248.7L176.2,248.7L176.2,248L177.2,248L177.2,246.3L178.2,246.3L178.2,247.2L179.2,247.2L179.2,246.2L180.2,246.2L180.2,246.6L181.2,246.6L181.2,246.8L182.2,246.8L182.2,246.1L183.2,246.1L183.2,246L184.2,246L184.2,245.3L185.2,245.3L185.2,244.7L186.2,244.7L186.2,244.6L187.2,244.6L187.2,245.1L188.2,245.1L188.2,246.1L189.2,246.1L189.2,246.1L190.2,246.1L190.2,246.6L191.2,246.6L191.2,247.4L192.2,247.4L192.2,246.6L193.2,246.6L193.2,246.9L194.2,246.9L194.2,247.7L195.2,247.7L195.2,247L196.2,247L196.2,247.1L197.2,247.1L197.2,247.8L198.2,247.8L198.2,247.8L199.2,247.8L199.2,248.7L200.2,248.7L200.2,249L201.2,249L201.2,250L202.2,250L202.2,250.5L203.2,250.5L203.2,250.5L204.2,250.5L204.2,251.1L205.2,251.1L205.2,250.9L206.2,250.9L206.2,250.4L207.2,250.4L207.2,251.5L208.2,251.5L208.2,250.5L209.2,250.5L209.2,250.6L210.2,250.6L210.2,251.3L211.2,251.3L211.2,252.8L212.2,252.8L212.2,253.9L213.2,253.9L213.2,254.7L214.2,254.7L214.2,255.5L215.2,255.5L215.2,256.5L216.2,256.5L216.2,257.4L217.2,257.4L217.2,259.2L218.2,259.2L218.2,259.9L219.2,259.9L219.2,260.4L220.2,260.4L220.2,261.6L221.2,261.6L221.2,262.2L222.2,262.2L222.2,262.6L223.2,262.6L223.2,262L224.2,262L224.2,261L225.2,261L225.2,261.6L226.2,261.6L226.2,260.2L227.2,260.2L227.2,260.8L228.2,260.8L228.2,260.7L229.2,260.7L229.2,260.4L230.2,260.4L230.2,260.2L231.2,260.2L231.2,261.2L232.2,261.2L232.2,260.1L233.2,260.1L233.2,260.8L234.2,260.8L234.2,261.2L235.2,261.2L235.2,260.1L236.2,260.1L236.2,260.1L237.2,260.1L237.2,260.6L238.2,260.6L238.2,260.5L239.2,260.5L239.2,260.7L240.2,260.7L240.2,261L241.2,261L241.2,260.2L242.2,260.2L242.2,260.5L243.2,260.5L243.2,260.5L244.2,260.5L244.2,260.1L245.2,260.1L245.2,261.2L246.2,261.2L246.2,261L247.2,261L247.2,260.8L248.2,260.8L248.2,259.8L249.2,259.8L249.2,260.9L250.2,260.9L250.2,260.8L251.2,260.8L251.2,260.5L252.2,260.5L252.2,261L253.2,261L253.2,260.6L254.2,260.6L254.2,260.4L255.2,260.4L255.2,260.1L256.2,260.1L256.2,260L257.2,260L257.2,259.5L258.2,259.5L258.2,259.7L259.2,259.7L259.2,260.1L260.2,260.1L260.2,259.8L261.2,259.8L261.2,259.7L262.2,259.7L262.2,259.2L263.2,259.2L263.2,258.3L264.2,258.3L264.2,258.4L265.2,258.4L265.2,258.1L266.2,258.1L266.2,259.3L267.2,259.3L267.2,259.7L268.2,259.7L268.2,260L269.2,260L269.2,261.2L270.2,261.2L270.2,262.3L271.2,262.3L271.2,261.9L272.2,261.9L272.2,263.5L273.2,263.5L273.2,262.5L274.2,262.5L274.2,262.5L275.2,262.5L275.2,262.3L276.2,262.3L276.2,262.7L277.2,262.7L277.2,262.8L278.2,262.8L278.2,262.4L279.2,262.4L279.2,261.7L280.2,261.7L280.2,262L281.2,262L281.2,260.6L282.2,260.6L282.2,259.8L283.2,259.8L283.2,260.1L284.2,260.1L284.2,259L285.2,259L285.2,258.3L286.2,258.3L286.2,257.5L287.2,257.5L287.2,257.3L288.2,257.3L288.2,256.5L289.2,256.5L289.2,256.9L290.2,256.9L290.2,256.6L291.2,256.6L291.2,256.8L292.2,256.8L292.2,256.3L293.2,256.3L293.2,257.2L294.2,257.2L294.2,257.4L295.2,257.4L295.2,257.5L296.2,257.5L296.2,257.9L297.2,257.9L297.2,259.4L298.2,259.4L298.2,260L299.2,260L299.2,262.5L300.2,262.5L300.2,261.5L301.2,261.5L301.2,260.8L302.2,260.8L302.2,260.4L303.2,260.4L303.2,261.1L304.2,261.1L304.2,259.9L305.2,259.9L305.2,259.3L306.2,259.3L306.2,258.8L307.2,258.8L307.2,258.5L308.2,258.5L308.2,259.1L309.2,259.1L309.2,258.8L310.2,258.8L310.2,258.7L311.2,258.7L311.2,258.6L312.2,258.6L312.2,256.9L313.2,256.9L313.2,255.8L314.2,255.8L314.2,253.6L315.2,253.6L315.2,253.1L316.2,253.1L316.2,252.8L317.2,252.8L317.2,252.5L318.2,252.5L318.2,251.7L319.2,251.7L319.2,253.6L320.2,253.6L320.2,254.4L321.2,254.4L321.2,255.2L322.2,255.2L322.2,254.9L323.2,254.9L323.2,255.9L324.2,255.9L324.2,256.6L325.2,256.6L325.2,257.4L326.2,257.4L326.2,259.4L327.2,259.4L327.2,260.5L328.2,260.5L328.2,261.4L329.2,261.4L329.2,262.9L330.2,262.9L330.2,263.4L331.2,263.4L331.2,262.8L332.2,262.8L332.2,262.4L333.2,262.4L333.2,262.2L334.2,262.2L334.2,262.9L335.2,262.9L335.2,261.8L336.2,261.8L336.2,261.6L337.2,261.6L337.2,261.4L338.2,261.4L338.2,259.9L339.2,259.9L339.2,259L340.2,259L340.2,257.7L341.2,257.7L341.2,257.1L342.2,257.1L342.2,255.7L343.2,255.7L343.2,254.7L344.2,254.7L344.2,254.8L345.2,254.8L345.2,253.2L346.2,253.2L346.2,253L347.2,253L347.2,253.5L348.2,253.5L348.2,253.5L349.2,253.5L349.2,254.9L350.2,254.9L350.2,255.8L351.2,255.8L351.2,257.3L352.2,257.3L352.2,257.7L353.2,257.7L353.2,259.2L354.2,259.2L354.2,260L355.2,260L355.2,260.3L356.2,260.3L356.2,261.8L357.2,261.8L357.2,261.3L358.2,261.3L358.2,263L359.2,263L359.2,262.7L360.2,262.7L360.2,262.4L361.2,262.4L361.2,262.5L362.2,262.5L362.2,263.1L363.2,263.1L363.2,263.2L364.2,263.2L364.2,261.6L365.2,261.6L365.2,261.5L366.2,261.5L366.2,260.8L367.2,260.8L367.2,260.5L368.2,260.5L368.2,259.1L369.2,259.1L369.2,260.1L370.2,260.1L370.2,260.4L371.2,260.4L371.2,261.6L372.2,261.6L372.2,261.3L373.2,261.3L373.2,262.8L374.2,262.8L374.2,262.4L375.2,262.4L375.2,262.9L376.2,262.9L376.2,264.1L377.2,264.1L377.2,264.4L378.2,264.4L378.2,264.7L379.2,264.7L379.2,266.3L380.2,266.3L380.2,266.5L381.2,266.5L381.2,268.4L382.2,268.4L382.2,269.2L383.2,269.2L383.2,269.9L384.2,269.9L384.2,270.3L385.2,270.3L385.2,269.1L386.2,269.1L386.2,267.7L387.2,267.7L387.2,266.2L388.2,266.2L388.2,265.5L389.2,265.5L389.2,263.4L390.2,263.4L390.2,263.5L391.2,263.5L391.2,261.3L392.2,261.3L392.2,260.3L393.2,260.3L393.2,258.9L394.2,258.9L394.2,258.3L395.2,258.3L395.2,256.2L396.2,256.2L396.2,254.3L397.2,254.3L397.2,253L398.2,253L398.2,250.1L399.2,250.1L399.2,248.4L400.2,248.4L400.2,247.7L401.2,247.7L401.2,247.6L402.2,247.6L402.2,247.1L403.2,247.1L403.2,246.5L404.2,246.5L404.2,246.3L405.2,246.3L405.2,246.8L406.2,246.8L406.2,247.1L407.2,247.1L407.2,248.6L408.2,248.6L408.2,248.8L409.2,248.8L409.2,249.7L410.2,249.7L410.2,250.1L411.2,250.1L411.2,251.6L412.2,251.6L412.2,253.3L413.2,253.3L413.2,254.2L414.2,254.2L414.2,254.6L415.2,254.6L415.2,255.9L416.2,255.9L416.2,257.3L417.2,257.3L417.2,257.3L418.2,257.3L418.2,258L419.2,258L419.2,259L420.2,259L420.2,259.4L421.2,259.4L421.2,259.2L422.2,259.2L422.2,257.8L423.2,257.8L423.2,257.4L424.2,257.4L424.2,257.2L425.2,257.2L425.2,256.6L426.2,256.6L426.2,256.2L427.2,256.2L427.2,255L428.2,255L428.2,254.6L429.2,254.6L429.2,253.7L430.2,253.7L430.2,254.1L431.2,254.1L431.2,252.7L432.2,252.7L432.2,250.8L433.2,250.8L433.2,251L434.2,251L434.2,248.8L435.2,248.8L435.2,248.2L436.2,248.2L436.2,248.1L437.2,248.1L437.2,246.8L438.2,246.8L438.2,245.7L439.2,245.7L439.2,244.3L440.2,244.3L440.2,243.6L441.2,243.6L441.2,244.1L442.2,244.1L442.2,243.1L443.2,243.1L443.2,243.1L444.2,243.1L444.2,243.1L445.2,243.1L445.2,242.1L446.2,242.1L446.2,242.1L447.2,242.1L447.2,242.1L448.2,242.1L448.2,241.9L449.2,241.9L449.2,242.3L450.2,242.3L450.2,243.3L451.2,243.3L451.2,243.8L452.2,243.8L452.2,244.2L453.2,244.2L453.2,245.8L454.2,245.8L454.2,246.6L455.2,246.6L455.2,248L456.2,248L456.2,248.4L457.2,248.4L457.2,247.5L458.2,247.5L458.2,247.5L459.2,247.5L459.2,247.5L460.2,247.5L460.2,246.8L461.2,246.8L461.2,246.2L462.2,246.2L462.2,246.7L463.2,246.7L463.2,246.7L464.2,246.7L464.2,247.6L465.2,247.6L465.2,247.7L466.2,247.7L466.2,243.9L467.2,243.9L467.2,239.7L468.2,239.7L468.2,236L469.2,236L469.2,233.1L470.2,233.1L470.2,230.2L471.2,230.2L471.2,228.5L472.2,228.5L472.2,226L473.2,226L473.2,224.8L474.2,224.8L474.2,223.5L475.2,223.5L475.2,221.4L476.2,221.4L476.2,219.3L477.2,219.3L477.2,214.9L478.2,214.9L478.2,210.6L479.2,210.6L479.2,209.1L480.2,209.1L480.2,207.4L481.2,207.4L481.2,204.4L482.2,204.4L482.2,203L483.2,203L483.2,202.9L484.2,202.9L484.2,201.4L485.2,201.4L485.2,203L486.2,203L486.2,204.2L487.2,204.2L487.2,204.8L488.2,204.8L488.2,207.1L489.2,207.1L489.2,209.9L490.2,209.9L490.2,210.7L491.2,210.7L491.2,213.4L492.2,213.4L492.2,214.9L493.2,214.9L493.2,218.1L494.2,218.1L494.2,221.4L495.2,221.4L495.2,223.8L496.2,223.8L496.2,226L497.2,226L497.2,229.3L498.2,229.3L498.2,232L499.2,232L499.2,234L500.2,234L500.2,235L501.2,235L501.2,236.6L502.2,236.6L502.2,237.1L503.2,237.1L503.2,236.7L504.2,236.7L504.2,236.5L505.2,236.5L505.2,237.2L506.2,237.2L506.2,234.9L507.2,234.9L507.2,234.2L508.2,234.2L508.2,232.4L509.2,232.4L509.2,230.9L510.2,230.9L510.2,228L511.2,228L511.2,227.6L512.2,227.6L512.2,225.9L513.2,225.9L513.2,224.8L514.2,224.8L514.2,224.3L515.2,224.3L515.2,223.5L516.2,223.5L516.2,221.7L517.2,221.7L517.2,221L518.2,221L518.2,219.8L519.2,219.8L519.2,219.5L520.2,219.5L520.2,218.5L521.2,218.5L521.2,217.9L522.2,217.9L522.2,218.7L523.2,218.7L523.2,220.5L524.2,220.5L524.2,221.9L525.2,221.9L525.2,222.4L526.2,222.4L526.2,222.2L527.2,222.2L527.2,223.2L528.2,223.2L528.2,222.8L529.2,222.8L529.2,222.8L530.2,222.8L530.2,222.8L531.2,222.8L531.2,223.9L532.2,223.9L532.2,224.2L533.2,224.2L533.2,224.1L534.2,224.1L534.2,224.1L535.2,224.1L535.2,225L536.2,225L536.2,225.7L537.2,225.7L537.2,228L538.2,228L538.2,228.4L539.2,228.4L539.2,229.4L540.2,229.4L540.2,229.9L541.2,229.9L541.2,230.1L542.2,230.1L542.2,229.9L543.2,229.9L543.2,229.7L544.2,229.7L544.2,230L545.2,230L545.2,229.4L546.2,229.4L546.2,230.4L547.2,230.4L547.2,228.9L548.2,228.9L548.2,228.9L549.2,228.9L549.2,227.3L550.2,227.3L550.2,226.8L551.2,226.8L551.2,226.3L552.2,226.3L552.2,226.1L553.2,226.1L553.2,225.4L554.2,225.4L554.2,224.7L555.2,224.7L555.2,224.7L556.2,224.7L556.2,222.6L557.2,222.6L557.2,221.1L558.2,221.1L558.2,219.6L559.2,219.6L559.2,218.9L560.2,218.9L560.2,218.1L561.2,218.1L561.2,217.7L562.2,217.7L562.2,216.9L563.2,216.9L563.2,216.9L564.2,216.9L564.2,218.2L565.2,218.2L565.2,218.6L566.2,218.6L566.2,217.9L567.2,217.9L567.2,218.3L568.2,218.3L568.2,217.7L569.2,217.7L569.2,217.2L570.2,217.2L570.2,216.9L571.2,216.9L571.2,218.5L572.2,218.5L572.2,218.8L573.2,218.8L573.2,218.5L574.2,218.5L574.2,218.9L575.2,218.9L575.2,220.4L576.2,220.4L576.2,220.2L577.2,220.2L577.2,219.8L578.2,219.8L578.2,219.8L579.2,219.8L579.2,219.6L580.2,219.6L580.2,219.2L581.2,219.2L581.2,219.5L582.2,219.5L582.2,218.4L583.2,218.4L583.2,217.7L584.2,217.7L584.2,218.6L585.2,218.6L585.2,218.3L586.2,218.3L586.2,217.3L587.2,217.3L587.2,218.2L588.2,218.2L588.2,218.1L589.2,218.1L589.2,220L590.2,220L590.2,221.5L591.2,221.5L591.2,223.1L592.2,223.1L592.2,223.7L593.2,223.7L593.2,224.4L594.2,224.4L594.2,224L595.2,224L595.2,225.1L596.2,225.1L596.2,225.3L597.2,225.3L597.2,226L598.2,226L598.2,226L599.2,226L599.2,226.8L600.2,226.8L600.2,226.4L601.2,226.4L601.2,226L602.2,226L602.2,226.1L603.2,226.1L603.2,226L604.2,226L604.2,226.2L605.2,226.2L605.2,225.2L606.2,225.2L606.2,225.4L607.2,225.4L607.2,224.6L608.2,224.6L608.2,224.4L609.2,224.4L609.2,223.7L610.2,223.7L610.2,223.6L611.2,223.6L611.2,224.8L612.2,224.8L612.2,224.4L613.2,224.4L613.2,226.3L614.2,226.3L614.2,226.2L615.2,226.2L615.2,226.5L616.2,226.5L616.2,226.9L617.2,226.9L617.2,227.3L618.2,227.3L618.2,226.9L619.2,226.9L619.2,226.6L620.2,226.6L620.2,226.9L621.2,226.9L621.2,225.1L622.2,225.1L622.2,225.4L623.2,225.4L623.2,225.8L624.2,225.8L624.2,225.3L625.2,225.3L625.2,226.5L626.2,226.5L626.2,227L627.2,227L627.2,227.6L628.2,227.6L628.2,226L629.2,226L629.2,226.1L630.2,226.1L630.2,224.7L631.2,224.7L631.2,223.8L632.2,223.8L632.2,223.3L633.2,223.3L633.2,221L634.2,221L634.2,220.8L635.2,220.8L635.2,219.9L636.2,219.9L636.2,219L637.2,219L637.2,219.2L638.2,219.2L638.2,218L639.2,218L639.2,217.6L640.2,217.6L640.2,217.6L641.2,217.6L641.2,218L642.2,218L642.2,217.2L643.2,217.2L643.2,217.5L644.2,217.5L644.2,218L645.2,218L645.2,218.7L646.2,218.7L646.2,219.6L647.2,219.6L647.2,219L648.2,219L648.2,219L649.2,219L649.2,217.7L650.2,217.7L650.2,217.1L651.2,217.1L651.2,216L652.2,216L652.2,215.6L653.2,215.6L653.2,215.5L654.2,215.5L654.2,214.3L655.2,214.3L655.2,214.4L656.2,214.4L656.2,214.2L657.2,214.2L657.2,214.6L658.2,214.6L658.2,215L659.2,215L659.2,215.8L660.2,215.8L660.2,215.9L661.2,215.9L661.2,216.1L662.2,216.1L662.2,215L663.2,215L663.2,216.1L664.2,216.1L664.2,217.5L665.2,217.5L665.2,218.3L666.2,218.3L666.2,218.9L667.2,218.9L667.2,220.3L668.2,220.3L668.2,220.4L669.2,220.4L669.2,221.1L670.2,221.1L670.2,222.7L671.2,222.7L671.2,222.3L672.2,222.3L672.2,221.9L673.2,221.9L673.2,221.5L674.2,221.5L674.2,221.2L675.2,221.2L675.2,220.3L676.2,220.3L676.2,220L677.2,220L677.2,219.6L678.2,219.6L678.2,219.3L679.2,219.3L679.2,218.7L680.2,218.7L680.2,218L681.2,218L681.2,216.3L682.2,216.3L682.2,215.8L683.2,215.8L683.2,214.4L684.2,214.4L684.2,215.4L685.2,215.4L685.2,215.3L686.2,215.3L686.2,216.2L687.2,216.2L687.2,217.1L688.2,217.1L688.2,219.3L689.2,219.3L689.2,220.5L690.2,220.5L690.2,220.9L691.2,220.9L691.2,219.7L692.2,219.7L692.2,219.5L693.2,219.5L693.2,219.3L694.2,219.3L694.2,219.9L695.2,219.9L695.2,220.3L696.2,220.3L696.2,221.3L697.2,221.3L697.2,221.6L698.2,221.6L698.2,221.1L699.2,221.1L699.2,220.8L700.2,220.8L700.2,220.7L701.2,220.7L701.2,220L702.2,220L702.2,217.5L703.2,217.5L703.2,216.9L704.2,216.9L704.2,216.3L705.2,216.3L705.2,216.7L706.2,216.7L706.2,218.1L707.2,218.1L707.2,218.7L708.2,218.7L708.2,220.2L709.2,220.2L709.2,220.6L710.2,220.6L710.2,220.7L711.2,220.7L711.2,221.2L712.2,221.2L712.2,221.5L713.2,221.5L713.2,222L714.2,222L714.2,222.3L715.2,222.3L715.2,222.1L716.2,222.1L716.2,222.5L717.2,222.5L717.2,222.6L718.2,222.6L718.2,223.9L719.2,223.9L719.2,224L720.2,224L720.2,224.6L721.2,224.6L721.2,223.9L722.2,223.9L722.2,223.2L723.2,223.2L723.2,223.4L724.2,223.4L724.2,221.8L725.2,221.8L725.2,222L726.2,222L726.2,219.8L727.2,219.8L727.2,219.9L728.2,219.9L728.2,217.6L729.2,217.6L729.2,214.8L730.2,214.8L730.2,213.1L731.2,213.1L731.2,210.3L732.2,210.3L732.2,210.3L733.2,210.3L733.2,208.8L734.2,208.8L734.2,207.8L735.2,207.8L735.2,208L736.2,208L736.2,207.1L737.2,207.1L737.2,206.4L738.2,206.4L738.2,205.4L739.2,205.4L739.2,204.7L740.2,204.7L740.2,206L741.2,206L741.2,206.8L742.2,206.8L742.2,207L743.2,207L743.2,210.4L744.2,210.4L744.2,212.4L745.2,212.4L745.2,216.4L746.2,216.4L746.2,218.1L747.2,218.1L747.2,219.1L748.2,219.1L748.2,220.6L749.2,220.6L749.2,220.8L750.2,220.8L750.2,220.4L751.2,220.4L751.2,218.7L752.2,218.7L752.2,219L753.2,219L753.2,220.4L754.2,220.4L754.2,220.5L755.2,220.5L755.2,222.3L756.2,222.3L756.2,222.6L757.2,222.6L757.2,222.8L758.2,222.8L758.2,224L759.2,224L759.2,225.1L760.2,225.1L760.2,225.6L761.2,225.6L761.2,226.5L762.2,226.5L762.2,226.4L763.2,226.4L763.2,227.9L764.2,227.9L764.2,227.9L765.2,227.9L765.2,228L766.2,228L766.2,227.7L767.2,227.7L767.2,227.2L768.2,227.2L768.2,226.5L769.2,226.5L769.2,225.1L770.2,225.1L770.2,223.3L771.2,223.3L771.2,221.6L772.2,221.6L772.2,220.8L773.2,220.8L773.2,219.9L774.2,219.9L774.2,219.1L775.2,219.1L775.2,219.9L776.2,219.9L776.2,219L777.2,219L777.2,218.7L778.2,218.7L778.2,217.5L779.2,217.5L779.2,217.5L780.2,217.5L780.2,217.7L781.2,217.7L781.2,217.1L782.2,217.1L782.2,216.4L783.2,216.4L783.2,216.5L784.2,216.5L784.2,217.3L785.2,217.3L785.2,218.6L786.2,218.6L786.2,218.4L787.2,218.4L787.2,219.4L788.2,219.4L788.2,219.7L789.2,219.7L789.2,220.7L790.2,220.7L790.2,220.1L791.2,220.1L791.2,216.9L792.2,216.9L792.2,215.1L793.2,215.1L793.2,215.7L794.2,215.7L794.2,216.2L795.2,216.2L795.2,216.7L796.2,216.7L796.2,217.5L797.2,217.5L797.2,218.4L798.2,218.4L798.2,218L799.2,218L799.2,219.8L800.2,219.8L800.2,220.7L801.2,220.7L801.2,221.8L802.2,221.8L802.2,222.4L803.2,222.4L803.2,223L804.2,223L804.2,224.8L805.2,224.8L805.2,225.7L806.2,225.7L806.2,226.6L807.2,226.6L807.2,227.8L808.2,227.8L808.2,227.5L809.2,227.5L809.2,227.6L810.2,227.6L810.2,228.8L811.2,228.8L811.2,229.8L812.2,229.8L812.2,230L813.2,230L813.2,231.7L814.2,231.7L814.2,233L815.2,233L815.2,232.7L816.2,232.7L816.2,233.8L817.2,233.8L817.2,234.4L818.2,234.4L818.2,234.6L819.2,234.6L819.2,232.8L820.2,232.8L820.2,230.8L821.2,230.8L821.2,229.5L822.2,229.5L822.2,229.1L823.2,229.1L823.2,228.3L824.2,228.3L824.2,227.5L825.2,227.5L825.2,229L826.2,229L826.2,229.5L827.2,229.5L827.2,229.2L828.2,229.2L828.2,229.9L829.2,229.9L829.2,229.6L830.2,229.6L830.2,228.8L831.2,228.8L831.2,227.6L832.2,227.6L832.2,226.8L833.2,226.8L833.2,226.5L834.2,226.5L834.2,225.4L835.2,225.4L835.2,225L836.2,225L836.2,224.2L837.2,224.2L837.2,224.2L838.2,224.2L838.2,222.9L839.2,222.9L839.2,222.4L840.2,222.4L840.2,221.4L841.2,221.4L841.2,220.8L842.2,220.8L842.2,219.5L843.2,219.5L843.2,218.6L844.2,218.6L844.2,219.2L845.2,219.2L845.2,217.8L846.2,217.8L846.2,217L847.2,217L847.2,217.3L848.2,217.3L848.2,217L849.2,217L849.2,215.7L850.2,215.7L850.2,216.2L851.2,216.2L851.2,215.8L852.2,215.8L852.2,215.9L853.2,215.9L853.2,215.1L854.2,215.1L854.2,215.3L855.2,215.3L855.2,217L856.2,217L856.2,217.2L857.2,217.2L857.2,217.1L858.2,217.1L858.2,217.6L859.2,217.6L859.2,217.3L860.2,217.3L860.2,218L861.2,218L861.2,217.5L862.2,217.5L862.2,218.2L863.2,218.2L863.2,218L864.2,218L864.2,218.5L865.2,218.5L865.2,219.1L866.2,219.1L866.2,218.5L867.2,218.5L867.2,218.6L868.2,218.6L868.2,219.3L869.2,219.3L869.2,219.8L870.2,219.8L870.2,220.3L871.2,220.3L871.2,220.8L872.2,220.8L872.2,222.2L873.2,222.2L873.2,223.1L874.2,223.1L874.2,223.1L875.2,223.1L875.2,224.2L876.2,224.2L876.2,224.7L877.2,224.7L877.2,223.9L878.2,223.9L878.2,225L879.2,225L879.2,225L880.2,225L880.2,224.9L881.2,224.9L881.2,226.2L882.2,226.2L882.2,225.5L883.2,225.5L883.2,226.1L884.2,226.1L884.2,226.4L885.2,226.4L885.2,227.1L886.2,227.1L886.2,226.9L887.2,226.9L887.2,226.7L888.2,226.7L888.2,227L889.2,227L889.2,225.2L890.2,225.2L890.2,224L891.2,224L891.2,223.7L892.2,223.7L892.2,223L893.2,223L893.2,223.2L894.2,223.2L894.2,223.9L895.2,223.9L895.2,223.4L896.2,223.4L896.2,223.5L897.2,223.5L897.2,222.8L898.2,222.8L898.2,221.6L899.2,221.6L899.2,219.3L900.2,219.3L900.2,219.1L901.2,219.1L901.2,219.2L902.2,219.2L902.2,219.5L903.2,219.5L903.2,220.5L904.2,220.5L904.2,219.6L905.2,219.6L905.2,220L906.2,220L906.2,221.1L907.2,221.1L907.2,221.6L908.2,221.6L908.2,221.4L909.2,221.4L909.2,221.1L910.2,221.1L910.2,220.8L911.2,220.8L911.2,220.1L912.2,220.1L912.2,219.4L913.2,219.4L913.2,220.3L914.2,220.3L914.2,220.8L915.2,220.8L915.2,221.2L916.2,221.2L916.2,222.3L917.2,222.3L917.2,221.6L918.2,221.6L918.2,221.5L919.2,221.5L919.2,221.1L920.2,221.1L920.2,221.5L921.2,221.5L921.2,220L922.2,220L922.2,220.4L923.2,220.4L923.2,219L924.2,219L924.2,218.2L925.2,218.2L925.2,219.3L926.2,219.3L926.2,218.5L927.2,218.5L927.2,219.8L928.2,219.8L928.2,219.9L929.2,219.9L929.2,219.5L930.2,219.5L930.2,217.7L931.2,217.7L931.2,217.4L932.2,217.4L932.2,216.2L933.2,216.2L933.2,216.9L934.2,216.9L934.2,216.4L935.2,216.4L935.2,215.7L936.2,215.7L936.2,215L937.2,215L937.2,214.5L938.2,214.5L938.2,214.8L939.2,214.8L939.2,214L940.2,214L940.2,213.9L941.2,213.9L941.2,212.9L942.2,212.9L942.2,212.9L943.2,212.9L943.2,212.8L944.2,212.8L944.2,213.9L945.2,213.9L945.2,213.8L946.2,213.8L946.2,213.3L947.2,213.3L947.2,214.3L948.2,214.3L948.2,213.5L949.2,213.5L949.2,213.7L950.2,213.7L950.2,213.7L951.2,213.7L951.2,214.3L952.2,214.3L952.2,215.6L953.2,215.6L953.2,215.4L954.2,215.4L954.2,216.4L955.2,216.4L955.2,218.1L956.2,218.1L956.2,219.1L957.2,219.1L957.2,221.2L958.2,221.2L958.2,221.6L959.2,221.6L959.2,224.3L960.2,224.3L960.2,224.5L961.2,224.5L961.2,227.1L962.2,227.1L962.2,228.1L963.2,228.1L963.2,228.8L964.2,228.8L964.2,230.5L965.2,230.5L965.2,231.6L966.2,231.6L966.2,232.9L967.2,232.9L967.2,232.5L968.2,232.5L968.2,231.4L969.2,231.4L969.2,231L970.2,231L970.2,229.7L971.2,229.7L971.2,228.2L972.2,228.2L972.2,225.7L973.2,225.7L973.2,225.3L974.2,225.3L974.2,225.4L975.2,225.4L975.2,223.5L976.2,223.5L976.2,222.5L977.2,222.5L977.2,219.9L978.2,219.9L978.2,219L979.2,219L979.2,216.4L980.2,216.4L980.2,216.2L981.2,216.2L981.2,214.3L982.2,214.3L982.2,213.5L983.2,213.5L983.2,213.8L984.2,213.8L984.2,215.4L985.2,215.4L985.2,215.5L986.2,215.5L986.2,215.4L987.2,215.4L987.2,215.9L988.2,215.9L988.2,216.8L989.2,216.8L989.2,216L990.2,216L990.2,216.7L991.2,216.7L991.2,216L992.2,216L992.2,215.8L993.2,215.8L993.2,216.5L994.2,216.5L994.2,216.2L995.2,216.2L995.2,215.3L996.2,215.3L996.2,214.9L997.2,214.9L997.2,214.7L998.2,214.7L998.2,215.2L999.2,215.2L999.2,214.9L1000.2,214.9L1000.2,214.2L1001.2,214.2L1001.2,213.5L1002.2,213.5L1002.2,213.5L1003.2,213.5L1003.2,213L1004.2,213L1004.2,212.6L1005.2,212.6L1005.2,211.8L1006.2,211.8L1006.2,210.8L1007.2,210.8L1007.2,210.3L1008.2,210.3L1008.2,210.8L1009.2,210.8L1009.2,209.9L1010.2,209.9L1010.2,210.5L1011.2,210.5L1011.2,209.9L1012.2,209.9L1012.2,211.2L1013.2,211.2L1013.2,210.8L1014.2,210.8L1014.2,211.8L1015.2,211.8L1015.2,211.8L1016.2,211.8L1016.2,211.3L1017.2,211.3L1017.2,210.6L1018.2,210.6L1018.2,211.9L1019.2,211.9L1019.2,211.6L1020.2,211.6L1020.2,213.4L1021.2,213.4L1021.2,213.7L1022.2,213.7L1022.2,214.6L1023.2,214.6L1023.2,216.3L1024.2,216.3L1024.2,216.4L1025.2,216.4L1025.2,216.8L1026.2,216.8L1026.2,218L1027.2,218L1027.2,219.3L1028.2,219.3L1028.2,219.5L1029.2,219.5L1029.2,221.2L1030.2,221.2L1030.2,222.3L1031.2,222.3L1031.2,223.7L1032.2,223.7L1032.2,224.4L1033.2,224.4L1033.2,226.5L1034.2,226.5L1034.2,227.6L1035.2,227.6L1035.2,228.7L1036.2,228.7L1036.2,228.9L1037.2,228.9L1037.2,230.4L1038.2,230.4L1038.2,230.7L1039.2,230.7L1039.2,232L1040.2,232L1040.2,231.7L1041.2,231.7L1041.2,233.3L1042.2,233.3L1042.2,233.5L1043.2,233.5L1043.2,232.8L1044.2,232.8L1044.2,232.8L1045.2,232.8L1045.2,232.7L1046.2,232.7L1046.2,232.3L1047.2,232.3L1047.2,231.3L1048,231.3L1048,306Z" fill="#4581c3" />
<path d="M84.2,306L84.2,248.5L85.2,248.5L85.2,247.4L86.2,247.4L86.2,247.1L87.2,247.1L87.2,246.8L88.2,246.8L88.2,246.8L89.2,246.8L89.2,247.1L90.2,247.1L90.2,245.9L91.2,245.9L91.2,245.7L92.2,245.7L92.2,247.1L93.2,247.1L93.2,247.3L94.2,247.3L94.2,248L95.2,248L95.2,249.3L96.2,249.3L96.2,249.8L97.2,249.8L97.2,250.3L98.2,250.3L98.2,251L99.2,251L99.2,250.7L100.2,250.7L100.2,252L101.2,252L101.2,252.2L102.2,252.2L102.2,251.8L103.2,251.8L103.2,252.3L104.2,252.3L104.2,253.1L105.2,253.1L105.2,253.4L106.2,253.4L106.2,253.5L107.2,253.5L107.2,253.6L108.2,253.6L108.2,254.2L109.2,254.2L109.2,254L110.2,254L110.2,254.6L111.2,254.6L111.2,255L112.2,255L112.2,254.2L113.2,254.2L113.2,254.7L114.2,254.7L114.2,255.2L115.2,255.2L115.2,254.9L116.2,254.9L116.2,256.1L117.2,256.1L117.2,256.6L118.2,256.6L118.2,256.3L119.2,256.3L119.2,257.2L120.2,257.2L120.2,258.7L121.2,258.7L121.2,259.3L122.2,259.3L122.2,260.2L123.2,260.2L123.2,261.8L124.2,261.8L124.2,262.1L125.2,262.1L125.2,261.9L126.2,261.9L126.2,262.2L127.2,262.2L127.2,262.7L128.2,262.7L128.2,263.2L129.2,263.2L129.2,264.2L130.2,264.2L130.2,264.4L131.2,264.4L131.2,264.9L132.2,264.9L132.2,264.7L133.2,264.7L133.2,264.1L134.2,264.1L134.2,262.5L135.2,262.5L135.2,262.3L136.2,262.3L136.2,262.2L137.2,262.2L137.2,261.7L138.2,261.7L138.2,260.5L139.2,260.5L139.2,260.4L140.2,260.4L140.2,260.3L141.2,260.3L141.2,259.7L142.2,259.7L142.2,259.5L143.2,259.5L143.2,258.2L144.2,258.2L144.2,257.9L145.2,257.9L145.2,257.2L146.2,257.2L146.2,255.8L147.2,255.8L147.2,255.2L148.2,255.2L148.2,255.6L149.2,255.6L149.2,254.9L150.2,254.9L150.2,254.6L151.2,254.6L151.2,253.6L152.2,253.6L152.2,253L153.2,253L153.2,252.2L154.2,252.2L154.2,251.4L155.2,251.4L155.2,250.5L156.2,250.5L156.2,252.4L157.2,252.4L157.2,253.1L158.2,253.1L158.2,254.6L159.2,254.6L159.2,255.1L160.2,255.1L160.2,256.5L161.2,256.5L161.2,257.7L162.2,257.7L162.2,258.1L163.2,258.1L163.2,258.4L164.2,258.4L164.2,259.5L165.2,259.5L165.2,260L166.2,260L166.2,261.2L167.2,261.2L167.2,261L168.2,261L168.2,261.6L169.2,261.6L169.2,262.4L170.2,262.4L170.2,261.5L171.2,261.5L171.2,261.9L172.2,261.9L172.2,262L173.2,262L173.2,261.2L174.2,261.2L174.2,260.4L175.2,260.4L175.2,260.1L176.2,260.1L176.2,259.7L177.2,259.7L177.2,259.1L178.2,259.1L178.2,259.2L179.2,259.2L179.2,259.3L180.2,259.3L180.2,259.6L181.2,259.6L181.2,259.9L182.2,259.9L182.2,259.4L183.2,259.4L183.2,259L184.2,259L184.2,258.4L185.2,258.4L185.2,258.5L186.2,258.5L186.2,258.5L187.2,258.5L187.2,258.1L188.2,258.1L188.2,258L189.2,258L189.2,258L190.2,258L190.2,257.4L191.2,257.4L191.2,257.9L192.2,257.9L192.2,257.5L193.2,257.5L193.2,257.8L194.2,257.8L194.2,257.9L195.2,257.9L195.2,257.9L196.2,257.9L196.2,257.8L197.2,257.8L197.2,257.8L198.2,257.8L198.2,258L199.2,258L199.2,258.5L200.2,258.5L200.2,258.6L201.2,258.6L201.2,259.1L202.2,259.1L202.2,258.6L203.2,258.6L203.2,259.3L204.2,259.3L204.2,260.1L205.2,260.1L205.2,259.6L206.2,259.6L206.2,260.2L207.2,260.2L207.2,260.4L208.2,260.4L208.2,260.4L209.2,260.4L209.2,261.6L210.2,261.6L210.2,261.4L211.2,261.4L211.2,262.6L212.2,262.6L212.2,262.5L213.2,262.5L213.2,263.3L214.2,263.3L214.2,265.6L215.2,265.6L215.2,266.3L216.2,266.3L216.2,267.1L217.2,267.1L217.2,268.4L218.2,268.4L218.2,269.2L219.2,269.2L219.2,270.2L220.2,270.2L220.2,270.2L221.2,270.2L221.2,271.1L222.2,271.1L222.2,271.7L223.2,271.7L223.2,271.1L224.2,271.1L224.2,270.1L225.2,270.1L225.2,270L226.2,270L226.2,269.7L227.2,269.7L227.2,269.8L228.2,269.8L228.2,269.5L229.2,269.5L229.2,269.5L230.2,269.5L230.2,269.2L231.2,269.2L231.2,268.6L232.2,268.6L232.2,268.7L233.2,268.7L233.2,268.6L234.2,268.6L234.2,268.5L235.2,268.5L235.2,268.1L236.2,268.1L236.2,268.4L237.2,268.4L237.2,268.3L238.2,268.3L238.2,268.5L239.2,268.5L239.2,267.5L240.2,267.5L240.2,268.3L241.2,268.3L241.2,267.2L242.2,267.2L242.2,268L243.2,268L243.2,267.7L244.2,267.7L244.2,267.7L245.2,267.7L245.2,268.3L246.2,268.3L246.2,267.9L247.2,267.9L247.2,267.8L248.2,267.8L248.2,268.3L249.2,268.3L249.2,268.5L250.2,268.5L250.2,268.2L251.2,268.2L251.2,268L252.2,268L252.2,268.2L253.2,268.2L253.2,268.3L254.2,268.3L254.2,268.6L255.2,268.6L255.2,268.1L256.2,268.1L256.2,268.2L257.2,268.2L257.2,268.3L258.2,268.3L258.2,268L259.2,268L259.2,267.9L260.2,267.9L260.2,268.4L261.2,268.4L261.2,268L262.2,268L262.2,267.1L263.2,267.1L263.2,266.6L264.2,266.6L264.2,265.8L265.2,265.8L265.2,265.6L266.2,265.6L266.2,265.7L267.2,265.7L267.2,266.6L268.2,266.6L268.2,266.9L269.2,266.9L269.2,266.7L270.2,266.7L270.2,268.2L271.2,268.2L271.2,268L272.2,268L272.2,269.2L273.2,269.2L273.2,269.3L274.2,269.3L274.2,269.3L275.2,269.3L275.2,268.2L276.2,268.2L276.2,268.4L277.2,268.4L277.2,268.8L278.2,268.8L278.2,267.6L279.2,267.6L279.2,267.5L280.2,267.5L280.2,268.7L281.2,268.7L281.2,268.1L282.2,268.1L282.2,268.1L283.2,268.1L283.2,267.5L284.2,267.5L284.2,266.7L285.2,266.7L285.2,266.7L286.2,266.7L286.2,265.7L287.2,265.7L287.2,265.2L288.2,265.2L288.2,265L289.2,265L289.2,264.2L290.2,264.2L290.2,263.8L291.2,263.8L291.2,263.7L292.2,263.7L292.2,263.2L293.2,263.2L293.2,264.3L294.2,264.3L294.2,264.4L295.2,264.4L295.2,264.6L296.2,264.6L296.2,264.5L297.2,264.5L297.2,265.8L298.2,265.8L298.2,267.1L299.2,267.1L299.2,268.7L300.2,268.7L300.2,268.7L301.2,268.7L301.2,268.6L302.2,268.6L302.2,268.2L303.2,268.2L303.2,267.1L304.2,267.1L304.2,266.7L305.2,266.7L305.2,266.7L306.2,266.7L306.2,266.9L307.2,266.9L307.2,265.8L308.2,265.8L308.2,265.7L309.2,265.7L309.2,265.8L310.2,265.8L310.2,264.7L311.2,264.7L311.2,264.6L312.2,264.6L312.2,264.6L313.2,264.6L313.2,262.6L314.2,262.6L314.2,260.4L315.2,260.4L315.2,258.9L316.2,258.9L316.2,259.6L317.2,259.6L317.2,259.2L318.2,259.2L318.2,259.8L319.2,259.8L319.2,260.8L320.2,260.8L320.2,261.5L321.2,261.5L321.2,261.7L322.2,261.7L322.2,262.1L323.2,262.1L323.2,262.9L324.2,262.9L324.2,263.9L325.2,263.9L325.2,264.5L326.2,264.5L326.2,264.8L327.2,264.8L327.2,265.7L328.2,265.7L328.2,267.1L329.2,267.1L329.2,267.9L330.2,267.9L330.2,268.3L331.2,268.3L331.2,269.2L332.2,269.2L332.2,268.9L333.2,268.9L333.2,268.3L334.2,268.3L334.2,268.6L335.2,268.6L335.2,268.6L336.2,268.6L336.2,267.5L337.2,267.5L337.2,267.5L338.2,267.5L338.2,265.8L339.2,265.8L339.2,265.2L340.2,265.2L340.2,264.8L341.2,264.8L341.2,263.5L342.2,263.5L342.2,262.8L343.2,262.8L343.2,261.4L344.2,261.4L344.2,261L345.2,261L345.2,260.3L346.2,260.3L346.2,259.2L347.2,259.2L347.2,260.3L348.2,260.3L348.2,260.8L349.2,260.8L349.2,262.1L350.2,262.1L350.2,262.2L351.2,262.2L351.2,262.7L352.2,262.7L352.2,263L353.2,263L353.2,263.7L354.2,263.7L354.2,265.2L355.2,265.2L355.2,265L356.2,265L356.2,265.7L357.2,265.7L357.2,266.5L358.2,266.5L358.2,267.6L359.2,267.6L359.2,268.6L360.2,268.6L360.2,268.5L361.2,268.5L361.2,268.6L362.2,268.6L362.2,267.7L363.2,267.7L363.2,267.5L364.2,267.5L364.2,268.3L365.2,268.3L365.2,267.1L366.2,267.1L366.2,266.8L367.2,266.8L367.2,265.6L368.2,265.6L368.2,264.8L369.2,264.8L369.2,265.2L370.2,265.2L370.2,265.3L371.2,265.3L371.2,266.5L372.2,266.5L372.2,266.4L373.2,266.4L373.2,266.5L374.2,266.5L374.2,267.2L375.2,267.2L375.2,267.6L376.2,267.6L376.2,267.8L377.2,267.8L377.2,269.3L378.2,269.3L378.2,269.6L379.2,269.6L379.2,270.9L380.2,270.9L380.2,271L381.2,271L381.2,272.1L382.2,272.1L382.2,272.4L383.2,272.4L383.2,272.6L384.2,272.6L384.2,274.1L385.2,274.1L385.2,273.4L386.2,273.4L386.2,271.7L387.2,271.7L387.2,271.3L388.2,271.3L388.2,270L389.2,270L389.2,268.2L390.2,268.2L390.2,267.3L391.2,267.3L391.2,266.5L392.2,266.5L392.2,264.5L393.2,264.5L393.2,263.6L394.2,263.6L394.2,261.2L395.2,261.2L395.2,259.9L396.2,259.9L396.2,258.5L397.2,258.5L397.2,255.9L398.2,255.9L398.2,254L399.2,254L399.2,252.7L400.2,252.7L400.2,251.5L401.2,251.5L401.2,251.4L402.2,251.4L402.2,250.3L403.2,250.3L403.2,249.7L404.2,249.7L404.2,250.1L405.2,250.1L405.2,250.4L406.2,250.4L406.2,251.9L407.2,251.9L407.2,251.6L408.2,251.6L408.2,252.5L409.2,252.5L409.2,252.7L410.2,252.7L410.2,254.4L411.2,254.4L411.2,255.4L412.2,255.4L412.2,256.6L413.2,256.6L413.2,257.4L414.2,257.4L414.2,258.7L415.2,258.7L415.2,260.7L416.2,260.7L416.2,261.3L417.2,261.3L417.2,262.3L418.2,262.3L418.2,263.4L419.2,263.4L419.2,264.7L420.2,264.7L420.2,264.4L421.2,264.4L421.2,263.5L422.2,263.5L422.2,263.7L423.2,263.7L423.2,262.7L424.2,262.7L424.2,261.9L425.2,261.9L425.2,262L426.2,262L426.2,260.8L427.2,260.8L427.2,260.5L428.2,260.5L428.2,260.7L429.2,260.7L429.2,259.3L430.2,259.3L430.2,259L431.2,259L431.2,258.4L432.2,258.4L432.2,257.3L433.2,257.3L433.2,255.4L434.2,255.4L434.2,254.6L435.2,254.6L435.2,254L436.2,254L436.2,252.5L437.2,252.5L437.2,252.2L438.2,252.2L438.2,250.2L439.2,250.2L439.2,250.1L440.2,250.1L440.2,249.1L441.2,249.1L441.2,248.5L442.2,248.5L442.2,248.5L443.2,248.5L443.2,247.9L444.2,247.9L444.2,248.2L445.2,248.2L445.2,247.2L446.2,247.2L446.2,247.5L447.2,247.5L447.2,246.6L448.2,246.6L448.2,246.2L449.2,246.2L449.2,246.8L450.2,246.8L450.2,248L451.2,248L451.2,248.2L452.2,248.2L452.2,250.1L453.2,250.1L453.2,250.7L454.2,250.7L454.2,252.7L455.2,252.7L455.2,254.2L456.2,254.2L456.2,254.1L457.2,254.1L457.2,254.2L458.2,254.2L458.2,253.2L459.2,253.2L459.2,253.1L460.2,253.1L460.2,252.9L461.2,252.9L461.2,252.6L462.2,252.6L462.2,252.7L463.2,252.7L463.2,252.4L464.2,252.4L464.2,254L465.2,254L465.2,255.5L466.2,255.5L466.2,251.2L467.2,251.2L467.2,248L468.2,248L468.2,243.9L469.2,243.9L469.2,241.8L470.2,241.8L470.2,238.9L471.2,238.9L471.2,236.8L472.2,236.8L472.2,234.9L473.2,234.9L473.2,233L474.2,233L474.2,231.4L475.2,231.4L475.2,229.3L476.2,229.3L476.2,227.2L477.2,227.2L477.2,225.2L478.2,225.2L478.2,221.7L479.2,221.7L479.2,220.5L480.2,220.5L480.2,218.1L481.2,218.1L481.2,213.8L482.2,213.8L482.2,211.1L483.2,211.1L483.2,210.3L484.2,210.3L484.2,208.6L485.2,208.6L485.2,210L486.2,210L486.2,211L487.2,211L487.2,213.2L488.2,213.2L488.2,215.5L489.2,215.5L489.2,217.5L490.2,217.5L490.2,219.9L491.2,219.9L491.2,222.5L492.2,222.5L492.2,224.9L493.2,224.9L493.2,226.7L494.2,226.7L494.2,229.8L495.2,229.8L495.2,231.5L496.2,231.5L496.2,234.2L497.2,234.2L497.2,236L498.2,236L498.2,238.2L499.2,238.2L499.2,240.6L500.2,240.6L500.2,241.4L501.2,241.4L501.2,242.4L502.2,242.4L502.2,242L503.2,242L503.2,242.2L504.2,242.2L504.2,242.6L505.2,242.6L505.2,242.9L506.2,242.9L506.2,243.5L507.2,243.5L507.2,244.1L508.2,244.1L508.2,244.2L509.2,244.2L509.2,244.6L510.2,244.6L510.2,243.4L511.2,243.4L511.2,241.1L512.2,241.1L512.2,240.5L513.2,240.5L513.2,239.2L514.2,239.2L514.2,238.4L515.2,238.4L515.2,236.8L516.2,236.8L516.2,236L517.2,236L517.2,235.3L518.2,235.3L518.2,233.9L519.2,233.9L519.2,232.5L520.2,232.5L520.2,232.3L521.2,232.3L521.2,231L522.2,231L522.2,229.2L523.2,229.2L523.2,227.6L524.2,227.6L524.2,228.5L525.2,228.5L525.2,228.2L526.2,228.2L526.2,227.5L527.2,227.5L527.2,227.8L528.2,227.8L528.2,227.8L529.2,227.8L529.2,228.8L530.2,228.8L530.2,228.3L531.2,228.3L531.2,229.4L532.2,229.4L532.2,229.3L533.2,229.3L533.2,228.5L534.2,228.5L534.2,229.2L535.2,229.2L535.2,228.9L536.2,228.9L536.2,230.1L537.2,230.1L537.2,231.7L538.2,231.7L538.2,232.6L539.2,232.6L539.2,233.8L540.2,233.8L540.2,235.6L541.2,235.6L541.2,235.5L542.2,235.5L542.2,236.6L543.2,236.6L543.2,236.8L544.2,236.8L544.2,237.4L545.2,237.4L545.2,238L546.2,238L546.2,238.2L547.2,238.2L547.2,238.5L548.2,238.5L548.2,238L549.2,238L549.2,238.8L550.2,238.8L550.2,238.4L551.2,238.4L551.2,238.5L552.2,238.5L552.2,238.9L553.2,238.9L553.2,237.7L554.2,237.7L554.2,238.2L555.2,238.2L555.2,237.1L556.2,237.1L556.2,236.8L557.2,236.8L557.2,235.2L558.2,235.2L558.2,232.8L559.2,232.8L559.2,231.4L560.2,231.4L560.2,231.1L561.2,231.1L561.2,230.2L562.2,230.2L562.2,229.6L563.2,229.6L563.2,228.7L564.2,228.7L564.2,228L565.2,228L565.2,227.9L566.2,227.9L566.2,227.4L567.2,227.4L567.2,226.7L568.2,226.7L568.2,226.3L569.2,226.3L569.2,225.6L570.2,225.6L570.2,225.8L571.2,225.8L571.2,225.6L572.2,225.6L572.2,225.6L573.2,225.6L573.2,226.1L574.2,226.1L574.2,226.9L575.2,226.9L575.2,227.3L576.2,227.3L576.2,228.4L577.2,228.4L577.2,228.2L578.2,228.2L578.2,228.6L579.2,228.6L579.2,230.6L580.2,230.6L580.2,231.2L581.2,231.2L581.2,233.2L582.2,233.2L582.2,234.4L583.2,234.4L583.2,235.3L584.2,235.3L584.2,235.3L585.2,235.3L585.2,235.8L586.2,235.8L586.2,235.4L587.2,235.4L587.2,236.7L588.2,236.7L588.2,237.4L589.2,237.4L589.2,238L590.2,238L590.2,239.1L591.2,239.1L591.2,240L592.2,240L592.2,240L593.2,240L593.2,241.1L594.2,241.1L594.2,241.4L595.2,241.4L595.2,240.8L596.2,240.8L596.2,240.2L597.2,240.2L597.2,240.1L598.2,240.1L598.2,239.6L599.2,239.6L599.2,240.5L600.2,240.5L600.2,240.7L601.2,240.7L601.2,240.8L602.2,240.8L602.2,241.6L603.2,241.6L603.2,242.3L604.2,242.3L604.2,242.6L605.2,242.6L605.2,242.9L606.2,242.9L606.2,243L607.2,243L607.2,242.1L608.2,242.1L608.2,242.4L609.2,242.4L609.2,241.3L610.2,241.3L610.2,239.6L611.2,239.6L611.2,239.4L612.2,239.4L612.2,238.7L613.2,238.7L613.2,237.2L614.2,237.2L614.2,236L615.2,236L615.2,236.3L616.2,236.3L616.2,236L617.2,236L617.2,235.5L618.2,235.5L618.2,235.8L619.2,235.8L619.2,235.3L620.2,235.3L620.2,236.6L621.2,236.6L621.2,236.5L622.2,236.5L622.2,236.8L623.2,236.8L623.2,237.9L624.2,237.9L624.2,238.3L625.2,238.3L625.2,238.5L626.2,238.5L626.2,239L627.2,239L627.2,237.9L628.2,237.9L628.2,236.8L629.2,236.8L629.2,236.6L630.2,236.6L630.2,235.5L631.2,235.5L631.2,233.4L632.2,233.4L632.2,231.8L633.2,231.8L633.2,230.8L634.2,230.8L634.2,230L635.2,230L635.2,229.3L636.2,229.3L636.2,227.7L637.2,227.7L637.2,227.6L638.2,227.6L638.2,227.5L639.2,227.5L639.2,227.4L640.2,227.4L640.2,226.9L641.2,226.9L641.2,226.7L642.2,226.7L642.2,227.9L643.2,227.9L643.2,227.7L644.2,227.7L644.2,228.1L645.2,228.1L645.2,228.7L646.2,228.7L646.2,228.8L647.2,228.8L647.2,228.8L648.2,228.8L648.2,227.6L649.2,227.6L649.2,226.9L650.2,226.9L650.2,227L651.2,227L651.2,226.6L652.2,226.6L652.2,226.3L653.2,226.3L653.2,225.7L654.2,225.7L654.2,225.7L655.2,225.7L655.2,225.7L656.2,225.7L656.2,225.2L657.2,225.2L657.2,225.2L658.2,225.2L658.2,224.8L659.2,224.8L659.2,225L660.2,225L660.2,225.3L661.2,225.3L661.2,224.7L662.2,224.7L662.2,225.4L663.2,225.4L663.2,224.9L664.2,224.9L664.2,226.5L665.2,226.5L665.2,228.3L666.2,228.3L666.2,228.5L667.2,228.5L667.2,229.6L668.2,229.6L668.2,230.9L669.2,230.9L669.2,231.4L670.2,231.4L670.2,232.2L671.2,232.2L671.2,230.7L672.2,230.7L672.2,231L673.2,231L673.2,230.4L674.2,230.4L674.2,229.6L675.2,229.6L675.2,228.7L676.2,228.7L676.2,228.1L677.2,228.1L677.2,228.2L678.2,228.2L678.2,227.6L679.2,227.6L679.2,227.1L680.2,227.1L680.2,226.4L681.2,226.4L681.2,225.8L682.2,225.8L682.2,225.3L683.2,225.3L683.2,224.7L684.2,224.7L684.2,225.6L685.2,225.6L685.2,225.7L686.2,225.7L686.2,226.9L687.2,226.9L687.2,228.6L688.2,228.6L688.2,230.2L689.2,230.2L689.2,231.5L690.2,231.5L690.2,232.7L691.2,232.7L691.2,233.5L692.2,233.5L692.2,234.8L693.2,234.8L693.2,236L694.2,236L694.2,237.5L695.2,237.5L695.2,238.2L696.2,238.2L696.2,238.9L697.2,238.9L697.2,239.8L698.2,239.8L698.2,239.6L699.2,239.6L699.2,238.4L700.2,238.4L700.2,237.9L701.2,237.9L701.2,236.2L702.2,236.2L702.2,236L703.2,236L703.2,235L704.2,235L704.2,233.6L705.2,233.6L705.2,232.9L706.2,232.9L706.2,232.6L707.2,232.6L707.2,231.3L708.2,231.3L708.2,230.7L709.2,230.7L709.2,229.8L710.2,229.8L710.2,230.1L711.2,230.1L711.2,231L712.2,231L712.2,230.2L713.2,230.2L713.2,230.5L714.2,230.5L714.2,231.1L715.2,231.1L715.2,230.9L716.2,230.9L716.2,230.4L717.2,230.4L717.2,231.1L718.2,231.1L718.2,231.1L719.2,231.1L719.2,231.8L720.2,231.8L720.2,232.1L721.2,232.1L721.2,232.8L722.2,232.8L722.2,232.9L723.2,232.9L723.2,232.7L724.2,232.7L724.2,232.4L725.2,232.4L725.2,232.4L726.2,232.4L726.2,232L727.2,232L727.2,230.4L728.2,230.4L728.2,228.6L729.2,228.6L729.2,228.2L730.2,228.2L730.2,226.3L731.2,226.3L731.2,224.8L732.2,224.8L732.2,224.1L733.2,224.1L733.2,222.5L734.2,222.5L734.2,221.5L735.2,221.5L735.2,220.4L736.2,220.4L736.2,218.7L737.2,218.7L737.2,218.2L738.2,218.2L738.2,217L739.2,217L739.2,216.8L740.2,216.8L740.2,216.6L741.2,216.6L741.2,217.6L742.2,217.6L742.2,219.6L743.2,219.6L743.2,220.8L744.2,220.8L744.2,224.5L745.2,224.5L745.2,228.3L746.2,228.3L746.2,231.1L747.2,231.1L747.2,233L748.2,233L748.2,234.7L749.2,234.7L749.2,235L750.2,235L750.2,235.3L751.2,235.3L751.2,234.3L752.2,234.3L752.2,232.8L753.2,232.8L753.2,233.3L754.2,233.3L754.2,233L755.2,233L755.2,233L756.2,233L756.2,234.2L757.2,234.2L757.2,234.5L758.2,234.5L758.2,235.7L759.2,235.7L759.2,235.9L760.2,235.9L760.2,237.7L761.2,237.7L761.2,237.9L762.2,237.9L762.2,239.1L763.2,239.1L763.2,240.2L764.2,240.2L764.2,240.8L765.2,240.8L765.2,241.3L766.2,241.3L766.2,240.6L767.2,240.6L767.2,240.5L768.2,240.5L768.2,240.8L769.2,240.8L769.2,240L770.2,240L770.2,239L771.2,239L771.2,237.2L772.2,237.2L772.2,236L773.2,236L773.2,234.1L774.2,234.1L774.2,233.1L775.2,233.1L775.2,231.5L776.2,231.5L776.2,229.2L777.2,229.2L777.2,228.8L778.2,228.8L778.2,227.6L779.2,227.6L779.2,227.3L780.2,227.3L780.2,226.5L781.2,226.5L781.2,226.8L782.2,226.8L782.2,226.2L783.2,226.2L783.2,226.7L784.2,226.7L784.2,227.4L785.2,227.4L785.2,228.4L786.2,228.4L786.2,228.9L787.2,228.9L787.2,228.8L788.2,228.8L788.2,230.2L789.2,230.2L789.2,230.1L790.2,230.1L790.2,231.1L791.2,231.1L791.2,231.9L792.2,231.9L792.2,231L793.2,231L793.2,231L794.2,231L794.2,229.7L795.2,229.7L795.2,228.2L796.2,228.2L796.2,228.1L797.2,228.1L797.2,229.2L798.2,229.2L798.2,230.4L799.2,230.4L799.2,230.9L800.2,230.9L800.2,231.5L801.2,231.5L801.2,232.6L802.2,232.6L802.2,233.9L803.2,233.9L803.2,236L804.2,236L804.2,235.7L805.2,235.7L805.2,236.5L806.2,236.5L806.2,236.6L807.2,236.6L807.2,237.5L808.2,237.5L808.2,237.5L809.2,237.5L809.2,237.4L810.2,237.4L810.2,238.5L811.2,238.5L811.2,238.3L812.2,238.3L812.2,238.6L813.2,238.6L813.2,239.3L814.2,239.3L814.2,240.2L815.2,240.2L815.2,239.8L816.2,239.8L816.2,240.9L817.2,240.9L817.2,241.2L818.2,241.2L818.2,241.9L819.2,241.9L819.2,242.7L820.2,242.7L820.2,242.3L821.2,242.3L821.2,240.9L822.2,240.9L822.2,240.5L823.2,240.5L823.2,240.8L824.2,240.8L824.2,241.4L825.2,241.4L825.2,241.8L826.2,241.8L826.2,242.7L827.2,242.7L827.2,242.7L828.2,242.7L828.2,242.8L829.2,242.8L829.2,241.5L830.2,241.5L830.2,241.3L831.2,241.3L831.2,240.3L832.2,240.3L832.2,238.9L833.2,238.9L833.2,238.4L834.2,238.4L834.2,237.5L835.2,237.5L835.2,237.5L836.2,237.5L836.2,236.1L837.2,236.1L837.2,234.4L838.2,234.4L838.2,233.6L839.2,233.6L839.2,232.8L840.2,232.8L840.2,231.9L841.2,231.9L841.2,231.1L842.2,231.1L842.2,229.8L843.2,229.8L843.2,228.8L844.2,228.8L844.2,227.8L845.2,227.8L845.2,227.9L846.2,227.9L846.2,227L847.2,227L847.2,226L848.2,226L848.2,226L849.2,226L849.2,226.2L850.2,226.2L850.2,224.7L851.2,224.7L851.2,224.4L852.2,224.4L852.2,224.7L853.2,224.7L853.2,224L854.2,224L854.2,224L855.2,224L855.2,224.3L856.2,224.3L856.2,224L857.2,224L857.2,224.3L858.2,224.3L858.2,224.7L859.2,224.7L859.2,225.9L860.2,225.9L860.2,226.5L861.2,226.5L861.2,226L862.2,226L862.2,227.2L863.2,227.2L863.2,227.4L864.2,227.4L864.2,227.6L865.2,227.6L865.2,227.4L866.2,227.4L866.2,227.3L867.2,227.3L867.2,227.4L868.2,227.4L868.2,227.4L869.2,227.4L869.2,227.7L870.2,227.7L870.2,228.8L871.2,228.8L871.2,229.3L872.2,229.3L872.2,229.7L873.2,229.7L873.2,229.8L874.2,229.8L874.2,229.8L875.2,229.8L875.2,230.7L876.2,230.7L876.2,231.1L877.2,231.1L877.2,230.9L878.2,230.9L878.2,231.1L879.2,231.1L879.2,230.7L880.2,230.7L880.2,231L881.2,231L881.2,230.8L882.2,230.8L882.2,230.4L883.2,230.4L883.2,230.7L884.2,230.7L884.2,230.8L885.2,230.8L885.2,231.8L886.2,231.8L886.2,231.4L887.2,231.4L887.2,231.4L888.2,231.4L888.2,231.5L889.2,231.5L889.2,231.1L890.2,231.1L890.2,230.6L891.2,230.6L891.2,229.7L892.2,229.7L892.2,230L893.2,230L893.2,231.7L894.2,231.7L894.2,232L895.2,232L895.2,232.7L896.2,232.7L896.2,231.7L897.2,231.7L897.2,230.1L898.2,230.1L898.2,228.7L899.2,228.7L899.2,227.6L900.2,227.6L900.2,228.1L901.2,228.1L901.2,228.4L902.2,228.4L902.2,229.1L903.2,229.1L903.2,229.5L904.2,229.5L904.2,231.2L905.2,231.2L905.2,231.8L906.2,231.8L906.2,233.7L907.2,233.7L907.2,233.8L908.2,233.8L908.2,233L909.2,233L909.2,232.9L910.2,232.9L910.2,233.2L911.2,233.2L911.2,233.4L912.2,233.4L912.2,232.5L913.2,232.5L913.2,232.8L914.2,232.8L914.2,232.2L915.2,232.2L915.2,232.5L916.2,232.5L916.2,231.3L917.2,231.3L917.2,231.6L918.2,231.6L918.2,231.8L919.2,231.8L919.2,230.8L920.2,230.8L920.2,230.5L921.2,230.5L921.2,229.4L922.2,229.4L922.2,228.8L923.2,228.8L923.2,228.2L924.2,228.2L924.2,228.2L925.2,228.2L925.2,227.2L926.2,227.2L926.2,227.1L927.2,227.1L927.2,227L928.2,227L928.2,227.9L929.2,227.9L929.2,228.6L930.2,228.6L930.2,228.7L931.2,228.7L931.2,228.6L932.2,228.6L932.2,229.6L933.2,229.6L933.2,230.3L934.2,230.3L934.2,230.3L935.2,230.3L935.2,230L936.2,230L936.2,231.3L937.2,231.3L937.2,232.2L938.2,232.2L938.2,232.3L939.2,232.3L939.2,232.8L940.2,232.8L940.2,233.4L941.2,233.4L941.2,233.6L942.2,233.6L942.2,233.8L943.2,233.8L943.2,233.4L944.2,233.4L944.2,233.6L945.2,233.6L945.2,232.5L946.2,232.5L946.2,232.5L947.2,232.5L947.2,232.8L948.2,232.8L948.2,232.5L949.2,232.5L949.2,232L950.2,232L950.2,232.1L951.2,232.1L951.2,232.1L952.2,232.1L952.2,232.2L953.2,232.2L953.2,233.2L954.2,233.2L954.2,233.2L955.2,233.2L955.2,234.2L956.2,234.2L956.2,234.1L957.2,234.1L957.2,234.5L958.2,234.5L958.2,235.1L959.2,235.1L959.2,236L960.2,236L960.2,237.6L961.2,237.6L961.2,238.6L962.2,238.6L962.2,241.7L963.2,241.7L963.2,243.2L964.2,243.2L964.2,244.8L965.2,244.8L965.2,243.7L966.2,243.7L966.2,244.4L967.2,244.4L967.2,243.1L968.2,243.1L968.2,240.3L969.2,240.3L969.2,237.7L970.2,237.7L970.2,236.2L971.2,236.2L971.2,235L972.2,235L972.2,234.5L973.2,234.5L973.2,232.4L974.2,232.4L974.2,232.6L975.2,232.6L975.2,231.4L976.2,231.4L976.2,230.7L977.2,230.7L977.2,228.5L978.2,228.5L978.2,226.1L979.2,226.1L979.2,224.2L980.2,224.2L980.2,223.1L981.2,223.1L981.2,221.8L982.2,221.8L982.2,221.3L983.2,221.3L983.2,220.5L984.2,220.5L984.2,221.8L985.2,221.8L985.2,222.6L986.2,222.6L986.2,223.4L987.2,223.4L987.2,223.2L988.2,223.2L988.2,224L989.2,224L989.2,224.4L990.2,224.4L990.2,224L991.2,224L991.2,224L992.2,224L992.2,224.1L993.2,224.1L993.2,224.4L994.2,224.4L994.2,223.2L995.2,223.2L995.2,222.9L996.2,222.9L996.2,223.3L997.2,223.3L997.2,223.5L998.2,223.5L998.2,223.6L999.2,223.6L999.2,223.1L1000.2,223.1L1000.2,223.9L1001.2,223.9L1001.2,222.8L1002.2,222.8L1002.2,223.1L1003.2,223.1L1003.2,221.9L1004.2,221.9L1004.2,221.4L1005.2,221.4L1005.2,221.1L1006.2,221.1L1006.2,220.9L1007.2,220.9L1007.2,221.4L1008.2,221.4L1008.2,221.5L1009.2,221.5L1009.2,221L1010.2,221L1010.2,221.9L1011.2,221.9L1011.2,221.4L1012.2,221.4L1012.2,221.4L1013.2,221.4L1013.2,221.7L1014.2,221.7L1014.2,222.6L1015.2,222.6L1015.2,222.1L1016.2,222.1L1016.2,220.4L1017.2,220.4L1017.2,219.5L1018.2,219.5L1018.2,219.9L1019.2,219.9L1019.2,219.8L1020.2,219.8L1020.2,221.2L1021.2,221.2L1021.2,221.1L1022.2,221.1L1022.2,222L1023.2,222L1023.2,222.6L1024.2,222.6L1024.2,224.2L1025.2,224.2L1025.2,224.8L1026.2,224.8L1026.2,225.8L1027.2,225.8L1027.2,227.7L1028.2,227.7L1028.2,228L1029.2,228L1029.2,230L1030.2,230L1030.2,230.2L1031.2,230.2L1031.2,231.9L1032.2,231.9L1032.2,232.7L1033.2,232.7L1033.2,234.2L1034.2,234.2L1034.2,234.5L1035.2,234.5L1035.2,236.3L1036.2,236.3L1036.2,237.4L1037.2,237.4L1037.2,239.2L1038.2,239.2L1038.2,240.3L1039.2,240.3L1039.2,240.9L1040.2,240.9L1040.2,241.4L1041.2,241.4L1041.2,241.9L1042.2,241.9L1042.2,241.7L1043.2,241.7L1043.2,241.7L1044.2,241.7L1044.2,241.2L1045.2,241.2L1045.2,240.8L1046.2,240.8L1046.2,241.2L1047.2,241.2L1047.2,240.7L1048,240.7L1048,306Z" fill="#c9cacc" />
<path d="M84.2,306L84.2,292.2L85.2,292.2L85.2,292.9L86.2,292.9L86.2,292.1L87.2,292.1L87.2,292.4L88.2,292.4L88.2,292L89.2,292L89.2,292.6L90.2,292.6L90.2,292.4L91.2,292.4L91.2,291.7L92.2,291.7L92.2,292.2L93.2,292.2L93.2,292.7L94.2,292.7L94.2,292.5L95.2,292.5L95.2,293L96.2,293L96.2,293.5L97.2,293.5L97.2,294.2L98.2,294.2L98.2,293.5L99.2,293.5L99.2,294.1L100.2,294.1L100.2,294.2L101.2,294.2L101.2,294.1L102.2,294.1L102.2,294.3L103.2,294.3L103.2,294.7L104.2,294.7L104.2,294L105.2,294L105.2,294.7L106.2,294.7L106.2,294.1L107.2,294.1L107.2,294.6L108.2,294.6L108.2,294.7L109.2,294.7L109.2,294L110.2,294L110.2,294.8L111.2,294.8L111.2,295L112.2,295L112.2,294.4L113.2,294.4L113.2,294.1L114.2,294.1L114.2,294.4L115.2,294.4L115.2,295.5L116.2,295.5L116.2,294.8L117.2,294.8L117.2,296L118.2,296L118.2,295.5L119.2,295.5L119.2,296.3L120.2,296.3L120.2,296.1L121.2,296.1L121.2,296.5L122.2,296.5L122.2,297.5L123.2,297.5L123.2,297.3L124.2,297.3L124.2,297.9L125.2,297.9L125.2,298.9L126.2,298.9L126.2,298.7L127.2,298.7L127.2,298.9L128.2,298.9L128.2,298.9L129.2,298.9L129.2,298L130.2,298L130.2,298.2L131.2,298.2L131.2,298.7L132.2,298.7L132.2,298.4L133.2,298.4L133.2,297.6L134.2,297.6L134.2,297.9L135.2,297.9L135.2,297.5L136.2,297.5L136.2,297.5L137.2,297.5L137.2,297.1L138.2,297.1L138.2,296.9L139.2,296.9L139.2,297.8L140.2,297.8L140.2,297.1L141.2,297.1L141.2,297.6L142.2,297.6L142.2,296.7L143.2,296.7L143.2,297L144.2,297L144.2,296.6L145.2,296.6L145.2,296.8L146.2,296.8L146.2,296.5L147.2,296.5L147.2,297L148.2,297L148.2,296.4L149.2,296.4L149.2,296.9L150.2,296.9L150.2,296.6L151.2,296.6L151.2,296.2L152.2,296.2L152.2,296.4L153.2,296.4L153.2,296.5L154.2,296.5L154.2,296.8L155.2,296.8L155.2,296.2L156.2,296.2L156.2,296L157.2,296L157.2,296.7L158.2,296.7L158.2,296.6L159.2,296.6L159.2,296.5L160.2,296.5L160.2,296.1L161.2,296.1L161.2,296L162.2,296L162.2,296.2L163.2,296.2L163.2,296L164.2,296L164.2,296.1L165.2,296.1L165.2,296.6L166.2,296.6L166.2,296.5L167.2,296.5L167.2,296.7L168.2,296.7L168.2,296.6L169.2,296.6L169.2,296.3L170.2,296.3L170.2,297L171.2,297L171.2,297L172.2,297L172.2,297L173.2,297L173.2,297.1L174.2,297.1L174.2,297.4L175.2,297.4L175.2,297.9L176.2,297.9L176.2,298L177.2,298L177.2,298.1L178.2,298.1L178.2,297.9L179.2,297.9L179.2,298L180.2,298L180.2,298.3L181.2,298.3L181.2,299L182.2,299L182.2,298.6L183.2,298.6L183.2,298.7L184.2,298.7L184.2,298.6L185.2,298.6L185.2,298.3L186.2,298.3L186.2,299L187.2,299L187.2,297.9L188.2,297.9L188.2,298.4L189.2,298.4L189.2,298.6L190.2,298.6L190.2,297.8L191.2,297.8L191.2,298.1L192.2,298.1L192.2,297.8L193.2,297.8L193.2,297.6L194.2,297.6L194.2,297.5L195.2,297.5L195.2,297.3L196.2,297.3L196.2,298L197.2,298L197.2,297.8L198.2,297.8L198.2,298L199.2,298L199.2,297.2L200.2,297.2L200.2,297.9L201.2,297.9L201.2,297.6L202.2,297.6L202.2,298L203.2,298L203.2,298L204.2,298L204.2,297.8L205.2,297.8L205.2,298.6L206.2,298.6L206.2,297.7L207.2,297.7L207.2,298.5L208.2,298.5L208.2,298.8L209.2,298.8L209.2,298.5L210.2,298.5L210.2,298.7L211.2,298.7L211.2,299.2L212.2,299.2L212.2,298.5L213.2,298.5L213.2,299.1L214.2,299.1L214.2,299.4L215.2,299.4L215.2,299.2L216.2,299.2L216.2,299.8L217.2,299.8L217.2,299.6L218.2,299.6L218.2,300L219.2,300L219.2,300.3L220.2,300.3L220.2,300.5L221.2,300.5L221.2,300.1L222.2,300.1L222.2,300.3L223.2,300.3L223.2,300L224.2,300L224.2,299.6L225.2,299.6L225.2,299.8L226.2,299.8L226.2,299.4L227.2,299.4L227.2,300L228.2,300L228.2,299.5L229.2,299.5L229.2,299.7L230.2,299.7L230.2,299.5L231.2,299.5L231.2,299.4L232.2,299.4L232.2,299.1L233.2,299.1L233.2,299L234.2,299L234.2,299.7L235.2,299.7L235.2,299.3L236.2,299.3L236.2,299.3L237.2,299.3L237.2,299.4L238.2,299.4L238.2,299.8L239.2,299.8L239.2,299.3L240.2,299.3L240.2,299.4L241.2,299.4L241.2,300.1L242.2,300.1L242.2,299.9L243.2,299.9L243.2,300.1L244.2,300.1L244.2,300.4L245.2,300.4L245.2,300.5L246.2,300.5L246.2,300.5L247.2,300.5L247.2,299.7L248.2,299.7L248.2,300.1L249.2,300.1L249.2,300.6L250.2,300.6L250.2,300.7L251.2,300.7L251.2,300L252.2,300L252.2,300L253.2,300L253.2,300L254.2,300L254.2,299.8L255.2,299.8L255.2,300.1L256.2,300.1L256.2,300.5L257.2,300.5L257.2,300.1L258.2,300.1L258.2,300L259.2,300L259.2,299.6L260.2,299.6L260.2,299.9L261.2,299.9L261.2,300.4L262.2,300.4L262.2,300L263.2,300L263.2,299.7L264.2,299.7L264.2,299.7L265.2,299.7L265.2,299.9L266.2,299.9L266.2,299.8L267.2,299.8L267.2,299.1L268.2,299.1L268.2,299.5L269.2,299.5L269.2,299.1L270.2,299.1L270.2,299.2L271.2,299.2L271.2,298.9L272.2,298.9L272.2,298.9L273.2,298.9L273.2,298.8L274.2,298.8L274.2,298.8L275.2,298.8L275.2,298.3L276.2,298.3L276.2,298.4L277.2,298.4L277.2,298.7L278.2,298.7L278.2,298.1L279.2,298.1L279.2,298.2L280.2,298.2L280.2,299.1L281.2,299.1L281.2,298.7L282.2,298.7L282.2,298.9L283.2,298.9L283.2,298.9L284.2,298.9L284.2,299.5L285.2,299.5L285.2,298.9L286.2,298.9L286.2,299.5L287.2,299.5L287.2,299.8L288.2,299.8L288.2,299.2L289.2,299.2L289.2,299.5L290.2,299.5L290.2,299.9L291.2,299.9L291.2,299.8L292.2,299.8L292.2,299.6L293.2,299.6L293.2,299.3L294.2,299.3L294.2,299.8L295.2,299.8L295.2,299.8L296.2,299.8L296.2,300.2L297.2,300.2L297.2,299.8L298.2,299.8L298.2,300L299.2,300L299.2,300.2L300.2,300.2L300.2,300.4L301.2,300.4L301.2,300L302.2,300L302.2,300.1L303.2,300.1L303.2,300.3L304.2,300.3L304.2,300.7L305.2,300.7L305.2,300L306.2,300L306.2,300.8L307.2,300.8L307.2,300.6L308.2,300.6L308.2,300.2L309.2,300.2L309.2,300.5L310.2,300.5L310.2,300.2L311.2,300.2L311.2,299.9L312.2,299.9L312.2,300.6L313.2,300.6L313.2,300.3L314.2,300.3L314.2,300.4L315.2,300.4L315.2,300.4L316.2,300.4L316.2,300.8L317.2,300.8L317.2,300.8L318.2,300.8L318.2,300.1L319.2,300.1L319.2,300.8L320.2,300.8L320.2,300.8L321.2,300.8L321.2,300.9L322.2,300.9L322.2,301.4L323.2,301.4L323.2,301L324.2,301L324.2,301.2L325.2,301.2L325.2,301.7L326.2,301.7L326.2,301.3L327.2,301.3L327.2,301.3L328.2,301.3L328.2,301.3L329.2,301.3L329.2,301.6L330.2,301.6L330.2,301.5L331.2,301.5L331.2,301.6L332.2,301.6L332.2,301.2L333.2,301.2L333.2,300.9L334.2,300.9L334.2,301.5L335.2,301.5L335.2,301.3L336.2,301.3L336.2,301.4L337.2,301.4L337.2,301.3L338.2,301.3L338.2,300.6L339.2,300.6L339.2,300.6L340.2,300.6L340.2,300.3L341.2,300.3L341.2,301L342.2,301L342.2,300.2L343.2,300.2L343.2,300.1L344.2,300.1L344.2,300.6L345.2,300.6L345.2,300.4L346.2,300.4L346.2,299.8L347.2,299.8L347.2,300.4L348.2,300.4L348.2,300.4L349.2,300.4L349.2,300.1L350.2,300.1L350.2,299.6L351.2,299.6L351.2,300.2L352.2,300.2L352.2,299.9L353.2,299.9L353.2,300.2L354.2,300.2L354.2,300.7L355.2,300.7L355.2,300.6L356.2,300.6L356.2,300.8L357.2,300.8L357.2,300.2L358.2,300.2L358.2,300.5L359.2,300.5L359.2,300.7L360.2,300.7L360.2,300.3L361.2,300.3L361.2,301.2L362.2,301.2L362.2,300.5L363.2,300.5L363.2,300.5L364.2,300.5L364.2,300.6L365.2,300.6L365.2,300.5L366.2,300.5L366.2,301.1L367.2,301.1L367.2,300.8L368.2,300.8L368.2,300.6L369.2,300.6L369.2,300.5L370.2,300.5L370.2,300L371.2,300L371.2,300.1L372.2,300.1L372.2,300.6L373.2,300.6L373.2,300.4L374.2,300.4L374.2,300.4L375.2,300.4L375.2,299.7L376.2,299.7L376.2,299.7L377.2,299.7L377.2,299.5L378.2,299.5L378.2,300L379.2,300L379.2,299.9L380.2,299.9L380.2,300L381.2,300L381.2,300L382.2,300L382.2,300.1L383.2,300.1L383.2,299.9L384.2,299.9L384.2,300.4L385.2,300.4L385.2,299.8L386.2,299.8L386.2,300.6L387.2,300.6L387.2,300.3L388.2,300.3L388.2,299.8L389.2,299.8L389.2,300.2L390.2,300.2L390.2,300.4L391.2,300.4L391.2,300.4L392.2,300.4L392.2,300.6L393.2,300.6L393.2,300.5L394.2,300.5L394.2,300.5L395.2,300.5L395.2,300.4L396.2,300.4L396.2,298.8L397.2,298.8L397.2,298.1L398.2,298.1L398.2,297.1L399.2,297.1L399.2,296.4L400.2,296.4L400.2,296L401.2,296L401.2,296.1L402.2,296.1L402.2,295.3L403.2,295.3L403.2,295.4L404.2,295.4L404.2,294.8L405.2,294.8L405.2,295.4L406.2,295.4L406.2,295.8L407.2,295.8L407.2,295.4L408.2,295.4L408.2,296.4L409.2,296.4L409.2,296L410.2,296L410.2,297.2L411.2,297.2L411.2,297.5L412.2,297.5L412.2,298.9L413.2,298.9L413.2,299L414.2,299L414.2,299.4L415.2,299.4L415.2,299.3L416.2,299.3L416.2,299.7L417.2,299.7L417.2,299.9L418.2,299.9L418.2,299.7L419.2,299.7L419.2,299.6L420.2,299.6L420.2,300.1L421.2,300.1L421.2,299.2L422.2,299.2L422.2,299.8L423.2,299.8L423.2,299L424.2,299L424.2,298.7L425.2,298.7L425.2,298.6L426.2,298.6L426.2,299.1L427.2,299.1L427.2,299.2L428.2,299.2L428.2,298.7L429.2,298.7L429.2,298.8L430.2,298.8L430.2,298.4L431.2,298.4L431.2,299L432.2,299L432.2,298.7L433.2,298.7L433.2,298.1L434.2,298.1L434.2,298L435.2,298L435.2,298.6L436.2,298.6L436.2,297.9L437.2,297.9L437.2,298.6L438.2,298.6L438.2,298L439.2,298L439.2,297.9L440.2,297.9L440.2,298.2L441.2,298.2L441.2,297.9L442.2,297.9L442.2,298.2L443.2,298.2L443.2,297.9L444.2,297.9L444.2,298.8L445.2,298.8L445.2,298.3L446.2,298.3L446.2,298.9L447.2,298.9L447.2,298.3L448.2,298.3L448.2,299.1L449.2,299.1L449.2,299.4L450.2,299.4L450.2,299L451.2,299L451.2,298.8L452.2,298.8L452.2,299.4L453.2,299.4L453.2,299.9L454.2,299.9L454.2,299.6L455.2,299.6L455.2,299.8L456.2,299.8L456.2,298.9L457.2,298.9L457.2,298.8L458.2,298.8L458.2,298.7L459.2,298.7L459.2,297.9L460.2,297.9L460.2,297.7L461.2,297.7L461.2,297.1L462.2,297.1L462.2,297.8L463.2,297.8L463.2,297.1L464.2,297.1L464.2,297.9L465.2,297.9L465.2,298L466.2,298L466.2,297.7L467.2,297.7L467.2,295.9L468.2,295.9L468.2,294.4L469.2,294.4L469.2,292.8L470.2,292.8L470.2,290.8L471.2,290.8L471.2,288.2L472.2,288.2L472.2,286.2L473.2,286.2L473.2,282.7L474.2,282.7L474.2,280.4L475.2,280.4L475.2,277.7L476.2,277.7L476.2,274.1L477.2,274.1L477.2,270.7L478.2,270.7L478.2,267.2L479.2,267.2L479.2,264.2L480.2,264.2L480.2,261.4L481.2,261.4L481.2,258.3L482.2,258.3L482.2,255.4L483.2,255.4L483.2,253.2L484.2,253.2L484.2,252.4L485.2,252.4L485.2,251.4L486.2,251.4L486.2,251.9L487.2,251.9L487.2,254L488.2,254L488.2,257.1L489.2,257.1L489.2,261.3L490.2,261.3L490.2,263.7L491.2,263.7L491.2,265.8L492.2,265.8L492.2,268.9L493.2,268.9L493.2,272.4L494.2,272.4L494.2,275.5L495.2,275.5L495.2,279.2L496.2,279.2L496.2,281.6L497.2,281.6L497.2,285.2L498.2,285.2L498.2,287.4L499.2,287.4L499.2,289.8L500.2,289.8L500.2,292.4L501.2,292.4L501.2,291.8L502.2,291.8L502.2,292.1L503.2,292.1L503.2,292.1L504.2,292.1L504.2,291.7L505.2,291.7L505.2,291.3L506.2,291.3L506.2,290.6L507.2,290.6L507.2,290.8L508.2,290.8L508.2,290L509.2,290L509.2,290.2L510.2,290.2L510.2,287.2L511.2,287.2L511.2,283.9L512.2,283.9L512.2,280.6L513.2,280.6L513.2,279L514.2,279L514.2,277.6L515.2,277.6L515.2,275.9L516.2,275.9L516.2,275.1L517.2,275.1L517.2,275.2L518.2,275.2L518.2,273.8L519.2,273.8L519.2,273.7L520.2,273.7L520.2,273.3L521.2,273.3L521.2,272.4L522.2,272.4L522.2,271.5L523.2,271.5L523.2,271.1L524.2,271.1L524.2,271.6L525.2,271.6L525.2,270.5L526.2,270.5L526.2,272.6L527.2,272.6L527.2,274.3L528.2,274.3L528.2,275.3L529.2,275.3L529.2,276.3L530.2,276.3L530.2,276.6L531.2,276.6L531.2,277.6L532.2,277.6L532.2,278L533.2,278L533.2,278L534.2,278L534.2,278L535.2,278L535.2,278.3L536.2,278.3L536.2,278.5L537.2,278.5L537.2,279.1L538.2,279.1L538.2,279.9L539.2,279.9L539.2,281.2L540.2,281.2L540.2,281.3L541.2,281.3L541.2,282L542.2,282L542.2,281.6L543.2,281.6L543.2,282.9L544.2,282.9L544.2,282.8L545.2,282.8L545.2,282.3L546.2,282.3L546.2,281.1L547.2,281.1L547.2,280.4L548.2,280.4L548.2,279L549.2,279L549.2,278.7L550.2,278.7L550.2,277.3L551.2,277.3L551.2,276.7L552.2,276.7L552.2,275.6L553.2,275.6L553.2,275.1L554.2,275.1L554.2,274.4L555.2,274.4L555.2,273.2L556.2,273.2L556.2,272.9L557.2,272.9L557.2,271.6L558.2,271.6L558.2,271.8L559.2,271.8L559.2,271.2L560.2,271.2L560.2,271.3L561.2,271.3L561.2,271.2L562.2,271.2L562.2,271.3L563.2,271.3L563.2,271L564.2,271L564.2,271.4L565.2,271.4L565.2,272.1L566.2,272.1L566.2,272.6L567.2,272.6L567.2,271.1L568.2,271.1L568.2,271.1L569.2,271.1L569.2,270.5L570.2,270.5L570.2,270.1L571.2,270.1L571.2,269.2L572.2,269.2L572.2,269.3L573.2,269.3L573.2,268.6L574.2,268.6L574.2,268.3L575.2,268.3L575.2,266.2L576.2,266.2L576.2,266L577.2,266L577.2,265.5L578.2,265.5L578.2,266.2L579.2,266.2L579.2,266.5L580.2,266.5L580.2,268.2L581.2,268.2L581.2,270.5L582.2,270.5L582.2,272.3L583.2,272.3L583.2,272.2L584.2,272.2L584.2,272.8L585.2,272.8L585.2,273L586.2,273L586.2,273.3L587.2,273.3L587.2,272.6L588.2,272.6L588.2,271.9L589.2,271.9L589.2,272.3L590.2,272.3L590.2,273.6L591.2,273.6L591.2,274.8L592.2,274.8L592.2,275.1L593.2,275.1L593.2,274.7L594.2,274.7L594.2,274.6L595.2,274.6L595.2,274.3L596.2,274.3L596.2,273.8L597.2,273.8L597.2,273.5L598.2,273.5L598.2,272.8L599.2,272.8L599.2,273L600.2,273L600.2,273.6L601.2,273.6L601.2,274.2L602.2,274.2L602.2,274.2L603.2,274.2L603.2,275.5L604.2,275.5L604.2,275.4L605.2,275.4L605.2,275.5L606.2,275.5L606.2,276.6L607.2,276.6L607.2,276.5L608.2,276.5L608.2,276.7L609.2,276.7L609.2,275.7L610.2,275.7L610.2,276L611.2,276L611.2,275.7L612.2,275.7L612.2,275.3L613.2,275.3L613.2,275L614.2,275L614.2,275.3L615.2,275.3L615.2,275.5L616.2,275.5L616.2,275.5L617.2,275.5L617.2,275.5L618.2,275.5L618.2,275.8L619.2,275.8L619.2,275.5L620.2,275.5L620.2,275.3L621.2,275.3L621.2,274.5L622.2,274.5L622.2,275.7L623.2,275.7L623.2,276L624.2,276L624.2,277L625.2,277L625.2,276.8L626.2,276.8L626.2,278L627.2,278L627.2,278.2L628.2,278.2L628.2,278L629.2,278L629.2,278.6L630.2,278.6L630.2,277.3L631.2,277.3L631.2,276.6L632.2,276.6L632.2,276.2L633.2,276.2L633.2,275.3L634.2,275.3L634.2,275L635.2,275L635.2,274.9L636.2,274.9L636.2,274.1L637.2,274.1L637.2,273.6L638.2,273.6L638.2,272.8L639.2,272.8L639.2,272.6L640.2,272.6L640.2,272L641.2,272L641.2,271.3L642.2,271.3L642.2,270.9L643.2,270.9L643.2,270.2L644.2,270.2L644.2,269.4L645.2,269.4L645.2,268.7L646.2,268.7L646.2,268.9L647.2,268.9L647.2,268.6L648.2,268.6L648.2,267.5L649.2,267.5L649.2,266.5L650.2,266.5L650.2,265.5L651.2,265.5L651.2,264.2L652.2,264.2L652.2,262.6L653.2,262.6L653.2,262.7L654.2,262.7L654.2,261.9L655.2,261.9L655.2,261.7L656.2,261.7L656.2,262.5L657.2,262.5L657.2,262.4L658.2,262.4L658.2,263L659.2,263L659.2,263.2L660.2,263.2L660.2,262.9L661.2,262.9L661.2,262.5L662.2,262.5L662.2,262.3L663.2,262.3L663.2,262.5L664.2,262.5L664.2,262.1L665.2,262.1L665.2,262.3L666.2,262.3L666.2,262.5L667.2,262.5L667.2,263.2L668.2,263.2L668.2,264.1L669.2,264.1L669.2,264.2L670.2,264.2L670.2,264.5L671.2,264.5L671.2,264.7L672.2,264.7L672.2,264.1L673.2,264.1L673.2,264.7L674.2,264.7L674.2,264.4L675.2,264.4L675.2,265.6L676.2,265.6L676.2,265.4L677.2,265.4L677.2,265.9L678.2,265.9L678.2,267L679.2,267L679.2,266.9L680.2,266.9L680.2,267.1L681.2,267.1L681.2,268.3L682.2,268.3L682.2,268.5L683.2,268.5L683.2,269.3L684.2,269.3L684.2,269.9L685.2,269.9L685.2,271.1L686.2,271.1L686.2,272.7L687.2,272.7L687.2,273.4L688.2,273.4L688.2,274.6L689.2,274.6L689.2,274.4L690.2,274.4L690.2,275.8L691.2,275.8L691.2,275.8L692.2,275.8L692.2,276.8L693.2,276.8L693.2,276.8L694.2,276.8L694.2,277.5L695.2,277.5L695.2,278.8L696.2,278.8L696.2,278.8L697.2,278.8L697.2,279.2L698.2,279.2L698.2,278.3L699.2,278.3L699.2,278.1L700.2,278.1L700.2,277.5L701.2,277.5L701.2,277.7L702.2,277.7L702.2,276L703.2,276L703.2,273.3L704.2,273.3L704.2,270.9L705.2,270.9L705.2,270.4L706.2,270.4L706.2,269.3L707.2,269.3L707.2,268.1L708.2,268.1L708.2,266.6L709.2,266.6L709.2,266.9L710.2,266.9L710.2,266.5L711.2,266.5L711.2,266.7L712.2,266.7L712.2,266.1L713.2,266.1L713.2,266.8L714.2,266.8L714.2,267.2L715.2,267.2L715.2,267.3L716.2,267.3L716.2,267.9L717.2,267.9L717.2,268.8L718.2,268.8L718.2,270L719.2,270L719.2,270.6L720.2,270.6L720.2,271.5L721.2,271.5L721.2,272.8L722.2,272.8L722.2,272.4L723.2,272.4L723.2,273.8L724.2,273.8L724.2,274.3L725.2,274.3L725.2,274.7L726.2,274.7L726.2,274.3L727.2,274.3L727.2,274.3L728.2,274.3L728.2,272.4L729.2,272.4L729.2,261.5L730.2,261.5L730.2,257.5L731.2,257.5L731.2,254.1L732.2,254.1L732.2,252.4L733.2,252.4L733.2,251.4L734.2,251.4L734.2,251.5L735.2,251.5L735.2,250.7L736.2,250.7L736.2,248.9L737.2,248.9L737.2,248L738.2,248L738.2,246.6L739.2,246.6L739.2,245.2L740.2,245.2L740.2,244.9L741.2,244.9L741.2,244.6L742.2,244.6L742.2,246.1L743.2,246.1L743.2,247.7L744.2,247.7L744.2,257.2L745.2,257.2L745.2,266L746.2,266L746.2,268.2L747.2,268.2L747.2,269.8L748.2,269.8L748.2,269.6L749.2,269.6L749.2,268.7L750.2,268.7L750.2,268.3L751.2,268.3L751.2,268L752.2,268L752.2,267.6L753.2,267.6L753.2,268.6L754.2,268.6L754.2,269.5L755.2,269.5L755.2,270.6L756.2,270.6L756.2,270.9L757.2,270.9L757.2,271.3L758.2,271.3L758.2,272.2L759.2,272.2L759.2,273L760.2,273L760.2,273.2L761.2,273.2L761.2,273L762.2,273L762.2,273L763.2,273L763.2,273.5L764.2,273.5L764.2,274.1L765.2,274.1L765.2,272.9L766.2,272.9L766.2,273L767.2,273L767.2,271.9L768.2,271.9L768.2,271.2L769.2,271.2L769.2,268.6L770.2,268.6L770.2,266.5L771.2,266.5L771.2,264.9L772.2,264.9L772.2,265L773.2,265L773.2,264.5L774.2,264.5L774.2,263.2L775.2,263.2L775.2,262.7L776.2,262.7L776.2,262.7L777.2,262.7L777.2,261.3L778.2,261.3L778.2,260.8L779.2,260.8L779.2,260.8L780.2,260.8L780.2,260.6L781.2,260.6L781.2,260.9L782.2,260.9L782.2,261.1L783.2,261.1L783.2,261.2L784.2,261.2L784.2,262.2L785.2,262.2L785.2,261.9L786.2,261.9L786.2,262.3L787.2,262.3L787.2,263.4L788.2,263.4L788.2,263.1L789.2,263.1L789.2,263L790.2,263L790.2,262.3L791.2,262.3L791.2,261.9L792.2,261.9L792.2,260.9L793.2,260.9L793.2,260.2L794.2,260.2L794.2,260.2L795.2,260.2L795.2,259.3L796.2,259.3L796.2,259.5L797.2,259.5L797.2,262.2L798.2,262.2L798.2,264.8L799.2,264.8L799.2,266.2L800.2,266.2L800.2,267.9L801.2,267.9L801.2,270.2L802.2,270.2L802.2,270.9L803.2,270.9L803.2,271.6L804.2,271.6L804.2,273L805.2,273L805.2,273.5L806.2,273.5L806.2,273.6L807.2,273.6L807.2,272.4L808.2,272.4L808.2,272.8L809.2,272.8L809.2,272.5L810.2,272.5L810.2,273.1L811.2,273.1L811.2,274.5L812.2,274.5L812.2,274.6L813.2,274.6L813.2,274.9L814.2,274.9L814.2,274.6L815.2,274.6L815.2,274.9L816.2,274.9L816.2,275L817.2,275L817.2,274.7L818.2,274.7L818.2,274.3L819.2,274.3L819.2,274.5L820.2,274.5L820.2,273.6L821.2,273.6L821.2,273.6L822.2,273.6L822.2,274.2L823.2,274.2L823.2,275L824.2,275L824.2,275L825.2,275L825.2,275.5L826.2,275.5L826.2,275.9L827.2,275.9L827.2,275.5L828.2,275.5L828.2,276.1L829.2,276.1L829.2,275.9L830.2,275.9L830.2,275.5L831.2,275.5L831.2,275.3L832.2,275.3L832.2,275.2L833.2,275.2L833.2,274.3L834.2,274.3L834.2,273.6L835.2,273.6L835.2,273.4L836.2,273.4L836.2,271.8L837.2,271.8L837.2,270.5L838.2,270.5L838.2,269.4L839.2,269.4L839.2,268.2L840.2,268.2L840.2,265.9L841.2,265.9L841.2,264.6L842.2,264.6L842.2,262.9L843.2,262.9L843.2,262.4L844.2,262.4L844.2,261.8L845.2,261.8L845.2,261.4L846.2,261.4L846.2,260.5L847.2,260.5L847.2,260.3L848.2,260.3L848.2,259.9L849.2,259.9L849.2,259.8L850.2,259.8L850.2,259.3L851.2,259.3L851.2,259.8L852.2,259.8L852.2,259.7L853.2,259.7L853.2,259.8L854.2,259.8L854.2,259.1L855.2,259.1L855.2,259.2L856.2,259.2L856.2,258.6L857.2,258.6L857.2,257.7L858.2,257.7L858.2,260.2L859.2,260.2L859.2,263.2L860.2,263.2L860.2,263.5L861.2,263.5L861.2,263.6L862.2,263.6L862.2,263.4L863.2,263.4L863.2,263.7L864.2,263.7L864.2,263.4L865.2,263.4L865.2,264.5L866.2,264.5L866.2,265L867.2,265L867.2,265.5L868.2,265.5L868.2,265.9L869.2,265.9L869.2,266.4L870.2,266.4L870.2,267.7L871.2,267.7L871.2,268.6L872.2,268.6L872.2,268.7L873.2,268.7L873.2,269.2L874.2,269.2L874.2,269.8L875.2,269.8L875.2,270.3L876.2,270.3L876.2,271.2L877.2,271.2L877.2,271.8L878.2,271.8L878.2,271.8L879.2,271.8L879.2,271.7L880.2,271.7L880.2,273.2L881.2,273.2L881.2,273.9L882.2,273.9L882.2,276.1L883.2,276.1L883.2,276.9L884.2,276.9L884.2,277.3L885.2,277.3L885.2,277.7L886.2,277.7L886.2,276.9L887.2,276.9L887.2,276.7L888.2,276.7L888.2,276.2L889.2,276.2L889.2,274L890.2,274L890.2,270.1L891.2,270.1L891.2,269L892.2,269L892.2,267.9L893.2,267.9L893.2,268.4L894.2,268.4L894.2,266.8L895.2,266.8L895.2,265.9L896.2,265.9L896.2,265.3L897.2,265.3L897.2,263.3L898.2,263.3L898.2,261.6L899.2,261.6L899.2,260.4L900.2,260.4L900.2,259.5L901.2,259.5L901.2,259.5L902.2,259.5L902.2,258.9L903.2,258.9L903.2,260.4L904.2,260.4L904.2,261.2L905.2,261.2L905.2,262.3L906.2,262.3L906.2,263.8L907.2,263.8L907.2,265.7L908.2,265.7L908.2,265.5L909.2,265.5L909.2,266.4L910.2,266.4L910.2,266.9L911.2,266.9L911.2,267.6L912.2,267.6L912.2,269.4L913.2,269.4L913.2,270.7L914.2,270.7L914.2,271.8L915.2,271.8L915.2,272.4L916.2,272.4L916.2,273.3L917.2,273.3L917.2,274.1L918.2,274.1L918.2,274.5L919.2,274.5L919.2,275.4L920.2,275.4L920.2,275.9L921.2,275.9L921.2,275.5L922.2,275.5L922.2,274L923.2,274L923.2,271.7L924.2,271.7L924.2,271.1L925.2,271.1L925.2,269.5L926.2,269.5L926.2,269.2L927.2,269.2L927.2,268.5L928.2,268.5L928.2,268.6L929.2,268.6L929.2,268.6L930.2,268.6L930.2,268.5L931.2,268.5L931.2,268L932.2,268L932.2,267.7L933.2,267.7L933.2,267.4L934.2,267.4L934.2,267.5L935.2,267.5L935.2,267.2L936.2,267.2L936.2,266.9L937.2,266.9L937.2,267.3L938.2,267.3L938.2,267.1L939.2,267.1L939.2,267L940.2,267L940.2,266.8L941.2,266.8L941.2,267.3L942.2,267.3L942.2,267L943.2,267L943.2,267.8L944.2,267.8L944.2,268.9L945.2,268.9L945.2,269.8L946.2,269.8L946.2,270.5L947.2,270.5L947.2,270.6L948.2,270.6L948.2,271L949.2,271L949.2,271.2L950.2,271.2L950.2,271.4L951.2,271.4L951.2,271.8L952.2,271.8L952.2,271.5L953.2,271.5L953.2,272.1L954.2,272.1L954.2,272.3L955.2,272.3L955.2,272.8L956.2,272.8L956.2,272.2L957.2,272.2L957.2,271.7L958.2,271.7L958.2,271L959.2,271L959.2,270.8L960.2,270.8L960.2,271.1L961.2,271.1L961.2,272.1L962.2,272.1L962.2,273L963.2,273L963.2,272.8L964.2,272.8L964.2,273L965.2,273L965.2,273.7L966.2,273.7L966.2,274.3L967.2,274.3L967.2,274.8L968.2,274.8L968.2,274.2L969.2,274.2L969.2,273.3L970.2,273.3L970.2,272.5L971.2,272.5L971.2,272.3L972.2,272.3L972.2,272.2L973.2,272.2L973.2,272.6L974.2,272.6L974.2,272.2L975.2,272.2L975.2,272.1L976.2,272.1L976.2,271.4L977.2,271.4L977.2,270.7L978.2,270.7L978.2,269.9L979.2,269.9L979.2,269.9L980.2,269.9L980.2,269L981.2,269L981.2,268.7L982.2,268.7L982.2,269.9L983.2,269.9L983.2,272.2L984.2,272.2L984.2,274.2L985.2,274.2L985.2,276.4L986.2,276.4L986.2,278.2L987.2,278.2L987.2,281.1L988.2,281.1L988.2,282.9L989.2,282.9L989.2,285.1L990.2,285.1L990.2,287.2L991.2,287.2L991.2,287.8L992.2,287.8L992.2,289.1L993.2,289.1L993.2,289.8L994.2,289.8L994.2,291.2L995.2,291.2L995.2,291.6L996.2,291.6L996.2,291.3L997.2,291.3L997.2,291.6L998.2,291.6L998.2,292.2L999.2,292.2L999.2,292.8L1000.2,292.8L1000.2,292.6L1001.2,292.6L1001.2,292.3L1002.2,292.3L1002.2,293.1L1003.2,293.1L1003.2,293L1004.2,293L1004.2,292.7L1005.2,292.7L1005.2,292.4L1006.2,292.4L1006.2,293.5L1007.2,293.5L1007.2,293.3L1008.2,293.3L1008.2,293L1009.2,293L1009.2,293.5L1010.2,293.5L1010.2,294.1L1011.2,294.1L1011.2,294.7L1012.2,294.7L1012.2,294.6L1013.2,294.6L1013.2,294.3L1014.2,294.3L1014.2,293.4L1015.2,293.4L1015.2,292.9L1016.2,292.9L1016.2,292.9L1017.2,292.9L1017.2,290.8L1018.2,290.8L1018.2,288.8L1019.2,288.8L1019.2,287.6L1020.2,287.6L1020.2,285.5L1021.2,285.5L1021.2,283.9L1022.2,283.9L1022.2,282.8L1023.2,282.8L1023.2,281.9L1024.2,281.9L1024.2,281L1025.2,281L1025.2,280L1026.2,280L1026.2,278.8L1027.2,278.8L1027.2,277.4L1028.2,277.4L1028.2,277L1029.2,277L1029.2,275.1L1030.2,275.1L1030.2,274.2L1031.2,274.2L1031.2,272.8L1032.2,272.8L1032.2,272.8L1033.2,272.8L1033.2,272.6L1034.2,272.6L1034.2,272L1035.2,272L1035.2,274L1036.2,274L1036.2,275.5L1037.2,275.5L1037.2,276.8L1038.2,276.8L1038.2,277.4L1039.2,277.4L1039.2,279.2L1040.2,279.2L1040.2,279.5L1041.2,279.5L1041.2,278.7L1042.2,278.7L1042.2,278.6L1043.2,278.6L1043.2,279.1L1044.2,279.1L1044.2,278.4L1045.2,278.4L1045.2,278.9L1046.2,278.9L1046.2,279.6L1047.2,279.6L1047.2,282.5L1048,282.5L1048,306Z" fill="#b41f25" />
<rect x="82.8" y="386" width="963.6" height="29.2" fill="#c9cacc"/>
<rect x="92.8" y="386" width="2.9" height="29.2" fill="#4581c3"/>
<rect x="102" y="386" width="1.2" height="29.2" fill="#4581c3"/>
<rect x="116" y="386" width="3" height="29.2" fill="#4581c3"/>
<rect x="128.4" y="386" width="3" height="29.2" fill="#4581c3"/>
<rect x="134.8" y="386" width="4.2" height="29.2" fill="#4581c3"/>
<rect x="151.9" y="386" width="1.2" height="29.2" fill="#4581c3"/>
<rect x="181.3" y="386" width="3" height="29.2" fill="#4581c3"/>
<rect x="203.1" y="386" width="3" height="29.2" fill="#4581c3"/>
<rect x="319.8" y="386" width="1.7" height="29.2" fill="#4581c3"/>
<rect x="444.2" y="386" width="7.7" height="29.2" fill="#4581c3"/>
<rect x="514" y="386" width="3.2" height="29.2" fill="#4581c3"/>
<rect x="542.2" y="386" width="2" height="29.2" fill="#4581c3"/>
<rect x="688.2" y="386" width="1.4" height="29.2" fill="#4581c3"/>
<rect x="708.2" y="386" width="1.7" height="29.2" fill="#4581c3"/>
<rect x="932.7" y="386" width="1.6" height="29.2" fill="#4581c3"/>
<rect x="952.7" y="386" width="3.6" height="29.2" fill="#4581c3"/>
<rect x="965" y="386" width="1.8" height="29.2" fill="#4581c3"/>
<rect x="988.6" y="386" width="5" height="29.2" fill="#4581c3"/>
<rect x="997.6" y="386" width="20.2" height="29.2" fill="#4581c3"/>
<rect x="1021.1" y="386" width="3.3" height="29.2" fill="#4581c3"/>
<path d="M77.8,630.3l11.2,11.2M77.8,641.5l11.2,-11.2M87.6,618.3l11.2,11.2M87.6,629.5l11.2,-11.2M106.4,611.9l11.2,11.2M106.4,623.1l11.2,-11.2M113.9,607.6l11.2,11.2M113.9,618.8l11.2,-11.2M120.4,604.4l11.2,11.2M120.4,615.6l11.2,-11.2M126.4,602l11.2,11.2M126.4,613.2l11.2,-11.2M133.4,600.7l11.2,11.2M133.4,611.9l11.2,-11.2M144,596.8l11.2,11.2M144,608l11.2,-11.2M169.1,584.6l11.2,11.2M169.1,595.8l11.2,-11.2M189.6,561.8l11.2,11.2M189.6,573l11.2,-11.2M198.8,557.2l11.2,11.2M198.8,568.4l11.2,-11.2M203.4,557.2l11.2,11.2M203.4,568.4l11.2,-11.2M217.7,547.2l11.2,11.2M217.7,558.4l11.2,-11.2M219.6,547l11.2,11.2M219.6,558.2l11.2,-11.2M224.5,547l11.2,11.2M224.5,558.2l11.2,-11.2M271.2,537.8l11.2,11.2M271.2,549l11.2,-11.2M275,537l11.2,11.2M275,548.2l11.2,-11.2M284.8,532.4l11.2,11.2M284.8,543.6l11.2,-11.2M290.2,532.4l11.2,11.2M290.2,543.6l11.2,-11.2M295.5,530.2l11.2,11.2M295.5,541.4l11.2,-11.2M301.6,530.2l11.2,11.2M301.6,541.4l11.2,-11.2M307.7,530.2l11.2,11.2M307.7,541.4l11.2,-11.2M326.7,530.2l11.2,11.2M326.7,541.4l11.2,-11.2M337,528.4l11.2,11.2M337,539.6l11.2,-11.2M339.2,528.4l11.2,11.2M339.2,539.6l11.2,-11.2M341.4,528.4l11.2,11.2M341.4,539.6l11.2,-11.2M343.8,528.4l11.2,11.2M343.8,539.6l11.2,-11.2M353.9,529.9l11.2,11.2M353.9,541.1l11.2,-11.2M361.5,528l11.2,11.2M361.5,539.2l11.2,-11.2M376,525l11.2,11.2M376,536.2l11.2,-11.2M389.5,525l11.2,11.2M389.5,536.2l11.2,-11.2M393.2,525l11.2,11.2M393.2,536.2l11.2,-11.2M413.4,525l11.2,11.2M413.4,536.2l11.2,-11.2M417,525l11.2,11.2M417,536.2l11.2,-11.2M432.9,525l11.2,11.2M432.9,536.2l11.2,-11.2M444.1,525l11.2,11.2M444.1,536.2l11.2,-11.2M455,525l11.2,11.2M455,536.2l11.2,-11.2M463,525l11.2,11.2M463,536.2l11.2,-11.2M465.6,525l11.2,11.2M465.6,536.2l11.2,-11.2M498,525.2l11.2,11.2M498,536.4l11.2,-11.2M506.4,525.2l11.2,11.2M506.4,536.4l11.2,-11.2M982.8,508.3l11.2,11.2M982.8,519.5l11.2,-11.2M1008.8,490.7l11.2,11.2M1008.8,501.9l11.2,-11.2M1013.4,497l11.2,11.2M1013.4,508.2l11.2,-11.2" stroke="#231f20" stroke-width="2.5" fill="none"/>
<circle cx="84.1" cy="631.3" r="5.7" fill="none" stroke="#4581c3" stroke-width="3.0"/>
<circle cx="90.2" cy="637.4" r="5.7" fill="none" stroke="#4581c3" stroke-width="3.0"/>
<circle cx="107.7" cy="632.8" r="5.7" fill="none" stroke="#4581c3" stroke-width="3.0"/>
<circle cx="113.8" cy="632.8" r="5.7" fill="none" stroke="#4581c3" stroke-width="3.0"/>
<circle cx="117.6" cy="629.8" r="5.7" fill="none" stroke="#4581c3" stroke-width="3.0"/>
<circle cx="120.7" cy="623.7" r="5.7" fill="none" stroke="#4581c3" stroke-width="3.0"/>
<circle cx="126.8" cy="626.8" r="5.7" fill="none" stroke="#4581c3" stroke-width="3.0"/>
<circle cx="131.3" cy="621.4" r="5.7" fill="none" stroke="#4581c3" stroke-width="3.0"/>
<circle cx="137.4" cy="619.9" r="5.7" fill="none" stroke="#4581c3" stroke-width="3.0"/>
<circle cx="143.5" cy="619.1" r="5.7" fill="none" stroke="#4581c3" stroke-width="3.0"/>
<circle cx="150.3" cy="621.4" r="5.7" fill="none" stroke="#4581c3" stroke-width="3.0"/>
<circle cx="157.2" cy="616.9" r="5.7" fill="none" stroke="#4581c3" stroke-width="3.0"/>
<circle cx="161.8" cy="616.1" r="5.7" fill="none" stroke="#4581c3" stroke-width="3.0"/>
<circle cx="166.3" cy="616.9" r="5.7" fill="none" stroke="#4581c3" stroke-width="3.0"/>
<circle cx="170.9" cy="616.9" r="5.7" fill="none" stroke="#4581c3" stroke-width="3.0"/>
<circle cx="174.7" cy="616.9" r="5.7" fill="none" stroke="#4581c3" stroke-width="3.0"/>
<circle cx="180" cy="616.9" r="5.7" fill="none" stroke="#4581c3" stroke-width="3.0"/>
<circle cx="195.2" cy="608.5" r="5.7" fill="none" stroke="#4581c3" stroke-width="3.0"/>
<circle cx="207.4" cy="609.3" r="5.7" fill="none" stroke="#4581c3" stroke-width="3.0"/>
<circle cx="216.5" cy="600.1" r="5.7" fill="none" stroke="#4581c3" stroke-width="3.0"/>
<circle cx="220.7" cy="598.4" r="5.7" fill="none" stroke="#4581c3" stroke-width="3.0"/>
<circle cx="225" cy="595.3" r="5.7" fill="none" stroke="#4581c3" stroke-width="3.0"/>
<circle cx="229.2" cy="592.6" r="5.7" fill="none" stroke="#4581c3" stroke-width="3.0"/>
<circle cx="237" cy="589.2" r="5.7" fill="none" stroke="#4581c3" stroke-width="3.0"/>
<circle cx="250.9" cy="590.6" r="5.7" fill="none" stroke="#4581c3" stroke-width="3.0"/>
<circle cx="268.4" cy="589.8" r="5.7" fill="none" stroke="#4581c3" stroke-width="3.0"/>
<circle cx="277.5" cy="582.2" r="5.7" fill="none" stroke="#4581c3" stroke-width="3.0"/>
<circle cx="285.1" cy="583.7" r="5.7" fill="none" stroke="#4581c3" stroke-width="3.0"/>
<circle cx="292.7" cy="583.7" r="5.7" fill="none" stroke="#4581c3" stroke-width="3.0"/>
<circle cx="299.6" cy="583.7" r="5.7" fill="none" stroke="#4581c3" stroke-width="3.0"/>
<circle cx="304.1" cy="583.7" r="5.7" fill="none" stroke="#4581c3" stroke-width="3.0"/>
<circle cx="309.5" cy="583.7" r="5.7" fill="none" stroke="#4581c3" stroke-width="3.0"/>
<circle cx="319.4" cy="583.7" r="5.7" fill="none" stroke="#4581c3" stroke-width="3.0"/>
<circle cx="323.2" cy="581.4" r="5.7" fill="none" stroke="#4581c3" stroke-width="3.0"/>
<circle cx="331.5" cy="571.5" r="5.7" fill="none" stroke="#4581c3" stroke-width="3.0"/>
<circle cx="338.4" cy="572.3" r="5.7" fill="none" stroke="#4581c3" stroke-width="3.0"/>
<circle cx="343" cy="572.3" r="5.7" fill="none" stroke="#4581c3" stroke-width="3.0"/>
<circle cx="362.7" cy="567.7" r="5.7" fill="none" stroke="#4581c3" stroke-width="3.0"/>
<circle cx="368.8" cy="567.7" r="5.7" fill="none" stroke="#4581c3" stroke-width="3.0"/>
<circle cx="379.5" cy="567.7" r="5.7" fill="none" stroke="#4581c3" stroke-width="3.0"/>
<circle cx="384" cy="567.7" r="5.7" fill="none" stroke="#4581c3" stroke-width="3.0"/>
<circle cx="386.4" cy="567.9" r="5.7" fill="none" stroke="#4581c3" stroke-width="3.0"/>
<circle cx="392.5" cy="567.9" r="5.7" fill="none" stroke="#4581c3" stroke-width="3.0"/>
<circle cx="397.8" cy="567.9" r="5.7" fill="none" stroke="#4581c3" stroke-width="3.0"/>
<circle cx="401.6" cy="564.6" r="5.7" fill="none" stroke="#4581c3" stroke-width="3.0"/>
<circle cx="407.7" cy="560" r="5.7" fill="none" stroke="#4581c3" stroke-width="3.0"/>
<circle cx="413.8" cy="560" r="5.7" fill="none" stroke="#4581c3" stroke-width="3.0"/>
<circle cx="417.6" cy="560" r="5.7" fill="none" stroke="#4581c3" stroke-width="3.0"/>
<circle cx="426.8" cy="560" r="5.7" fill="none" stroke="#4581c3" stroke-width="3.0"/>
<circle cx="469.4" cy="560" r="5.7" fill="none" stroke="#4581c3" stroke-width="3.0"/>
<circle cx="474.7" cy="560" r="5.7" fill="none" stroke="#4581c3" stroke-width="3.0"/>
<circle cx="511.2" cy="560" r="5.7" fill="none" stroke="#4581c3" stroke-width="3.0"/>
<circle cx="517.3" cy="557" r="5.7" fill="none" stroke="#4581c3" stroke-width="3.0"/>
<circle cx="531.8" cy="556.5" r="5.7" fill="none" stroke="#4581c3" stroke-width="3.0"/>
<circle cx="988.4" cy="513.9" r="5.7" fill="none" stroke="#4581c3" stroke-width="3.0"/>
<circle cx="1000.7" cy="522.3" r="5.7" fill="none" stroke="#4581c3" stroke-width="3.0"/>
<circle cx="1005.8" cy="522.3" r="5.7" fill="none" stroke="#4581c3" stroke-width="3.0"/>
<circle cx="1007.1" cy="510" r="5.7" fill="none" stroke="#4581c3" stroke-width="3.0"/>
<circle cx="1014.3" cy="499.2" r="5.7" fill="none" stroke="#4581c3" stroke-width="3.0"/>
<circle cx="1020.5" cy="498.4" r="5.7" fill="none" stroke="#4581c3" stroke-width="3.0"/>
<circle cx="1025.3" cy="494.8" r="5.7" fill="none" stroke="#4581c3" stroke-width="3.0"/>
<circle cx="980.9" cy="556.7" r="5.7" fill="none" stroke="#4581c3" stroke-width="3.0"/>
<path d="M89.5,631.6L104.2,629.2L118,624.4L130,623.5L150.5,621.8" stroke="#b41f25" stroke-width="4.2" fill="none" stroke-linecap="butt" stroke-linejoin="round"/>
<path d="M244.8,589L264.6,586" stroke="#b41f25" stroke-width="4.2" fill="none" stroke-linecap="butt" stroke-linejoin="round"/>
<path d="M281.3,579.1L296.5,575.3L314.8,572.8L330,567L340.7,565.8L355.1,565.4" stroke="#b41f25" stroke-width="4.2" fill="none" stroke-linecap="butt" stroke-linejoin="round"/>
<path d="M422.2,555.1L431.3,553.2L440.4,549.7L451.9,549.1" stroke="#b41f25" stroke-width="4.2" fill="none" stroke-linecap="butt" stroke-linejoin="round"/>
<path d="M456.4,549.1L473.9,548.6" stroke="#b41f25" stroke-width="4.2" fill="none" stroke-linecap="butt" stroke-linejoin="round"/>
<path d="M488.4,548.6L493,548.6" stroke="#b41f25" stroke-width="4.2" fill="none" stroke-linecap="butt" stroke-linejoin="round"/>
<path d="M496.8,548.6L502.1,548.6" stroke="#b41f25" stroke-width="4.2" fill="none" stroke-linecap="butt" stroke-linejoin="round"/>
<path d="M505.9,548.4L528,548" stroke="#b41f25" stroke-width="4.2" fill="none" stroke-linecap="butt" stroke-linejoin="round"/>
<path d="M997,518.2L1009.5,513.5L1022.5,511.5" stroke="#b41f25" stroke-width="4.2" fill="none" stroke-linecap="butt" stroke-linejoin="round"/>
<rect x="85" y="633.9" width="4.9" height="4.9" fill="#b41f25"/>
<rect x="171.5" y="610.3" width="4.9" height="4.9" fill="#b41f25"/>
<rect x="195.9" y="603.3" width="4.9" height="4.9" fill="#b41f25"/>
<rect x="210.2" y="598.4" width="4.9" height="4.9" fill="#b41f25"/>
<rect x="369.9" y="557.6" width="4.9" height="4.9" fill="#b41f25"/>
<rect x="477.6" y="546.1" width="4.9" height="4.9" fill="#b41f25"/>
<rect x="534.8" y="544.6" width="4.9" height="4.9" fill="#b41f25"/>
<rect x="542.6" y="543.8" width="4.9" height="4.9" fill="#b41f25"/>
<rect x="552.2" y="544.1" width="4.9" height="4.9" fill="#b41f25"/>
<rect x="608" y="543.8" width="4.9" height="4.9" fill="#b41f25"/>
<rect x="621.8" y="543.8" width="4.9" height="4.9" fill="#b41f25"/>
<rect x="630.9" y="543.8" width="4.9" height="4.9" fill="#b41f25"/>
<rect x="638.9" y="543.8" width="4.9" height="4.9" fill="#b41f25"/>
<rect x="647" y="543.8" width="4.9" height="4.9" fill="#b41f25"/>
<rect x="659" y="543.8" width="4.9" height="4.9" fill="#b41f25"/>
<rect x="666.8" y="543.8" width="4.9" height="4.9" fill="#b41f25"/>
<rect x="682.4" y="543.5" width="4.9" height="4.9" fill="#b41f25"/>
<rect x="688.8" y="543.8" width="4.9" height="4.9" fill="#b41f25"/>
<rect x="705.8" y="543.5" width="4.9" height="4.9" fill="#b41f25"/>
<rect x="758.5" y="543.5" width="4.9" height="4.9" fill="#b41f25"/>
<rect x="772.5" y="543.8" width="4.9" height="4.9" fill="#b41f25"/>
<rect x="786.8" y="543.5" width="4.9" height="4.9" fill="#b41f25"/>
<rect x="810" y="543.8" width="4.9" height="4.9" fill="#b41f25"/>
<rect x="814.3" y="543.8" width="4.9" height="4.9" fill="#b41f25"/>
<rect x="839.2" y="543.4" width="4.9" height="4.9" fill="#b41f25"/>
<rect x="847.2" y="543.4" width="4.9" height="4.9" fill="#b41f25"/>
<rect x="856.8" y="543.4" width="4.9" height="4.9" fill="#b41f25"/>
<rect x="915.3" y="542.5" width="4.9" height="4.9" fill="#b41f25"/>
<rect x="939.5" y="540" width="4.9" height="4.9" fill="#b41f25"/>
<rect x="949.9" y="540.2" width="4.9" height="4.9" fill="#b41f25"/>
<rect x="955.9" y="543.8" width="4.9" height="4.9" fill="#b41f25"/>
<rect x="960.5" y="540.8" width="4.9" height="4.9" fill="#b41f25"/>
<rect x="964.9" y="539.6" width="4.9" height="4.9" fill="#b41f25"/>
<rect x="1033.8" y="492.8" width="4.9" height="4.9" fill="#b41f25"/>
<line x1="83" y1="0" x2="83" y2="142.2" stroke="#231f20" stroke-width="2.4"/>
<line x1="73" y1="141.1" x2="1051" y2="141.1" stroke="#231f20" stroke-width="2.4"/>
<line x1="73" y1="31.9" x2="83.2" y2="31.9" stroke="#231f20" stroke-width="2.1"/>
<line x1="73" y1="86.8" x2="83.2" y2="86.8" stroke="#231f20" stroke-width="2.1"/>
<line x1="83" y1="141" x2="83" y2="147" stroke="#231f20" stroke-width="2.2"/>
<line x1="238.6" y1="141" x2="238.6" y2="147" stroke="#231f20" stroke-width="2.2"/>
<line x1="394.2" y1="141" x2="394.2" y2="147" stroke="#231f20" stroke-width="2.2"/>
<line x1="549.8" y1="141" x2="549.8" y2="147" stroke="#231f20" stroke-width="2.2"/>
<line x1="705.3" y1="141" x2="705.3" y2="147" stroke="#231f20" stroke-width="2.2"/>
<line x1="860.7" y1="141" x2="860.7" y2="147" stroke="#231f20" stroke-width="2.2"/>
<line x1="1016.1" y1="141" x2="1016.1" y2="147" stroke="#231f20" stroke-width="2.2"/>
<line x1="83" y1="165.5" x2="83" y2="307.4" stroke="#231f20" stroke-width="2.4"/>
<line x1="73" y1="306.2" x2="1051" y2="306.2" stroke="#231f20" stroke-width="2.4"/>
<line x1="73" y1="193" x2="83.2" y2="193" stroke="#231f20" stroke-width="2.1"/>
<line x1="73" y1="221.2" x2="83.2" y2="221.2" stroke="#231f20" stroke-width="2.1"/>
<line x1="73" y1="249.5" x2="83.2" y2="249.5" stroke="#231f20" stroke-width="2.1"/>
<line x1="73" y1="277.8" x2="83.2" y2="277.8" stroke="#231f20" stroke-width="2.1"/>
<line x1="83" y1="306" x2="83" y2="311.8" stroke="#231f20" stroke-width="2.2"/>
<line x1="238.6" y1="306" x2="238.6" y2="311.8" stroke="#231f20" stroke-width="2.2"/>
<line x1="394.2" y1="306" x2="394.2" y2="311.8" stroke="#231f20" stroke-width="2.2"/>
<line x1="549.8" y1="306" x2="549.8" y2="311.8" stroke="#231f20" stroke-width="2.2"/>
<line x1="705.3" y1="306" x2="705.3" y2="311.8" stroke="#231f20" stroke-width="2.2"/>
<line x1="860.7" y1="306" x2="860.7" y2="311.8" stroke="#231f20" stroke-width="2.2"/>
<line x1="1016.1" y1="306" x2="1016.1" y2="311.8" stroke="#231f20" stroke-width="2.2"/>
<line x1="83" y1="496" x2="83" y2="638.3" stroke="#231f20" stroke-width="2.4"/>
<line x1="73" y1="637.1" x2="1051" y2="637.1" stroke="#231f20" stroke-width="2.4"/>
<line x1="73" y1="523.1" x2="83.2" y2="523.1" stroke="#231f20" stroke-width="2.1"/>
<line x1="73" y1="551.4" x2="83.2" y2="551.4" stroke="#231f20" stroke-width="2.1"/>
<line x1="73" y1="579.7" x2="83.2" y2="579.7" stroke="#231f20" stroke-width="2.1"/>
<line x1="73" y1="608.1" x2="83.2" y2="608.1" stroke="#231f20" stroke-width="2.1"/>
<line x1="83" y1="637" x2="83" y2="649" stroke="#231f20" stroke-width="2.2"/>
<line x1="238.6" y1="637" x2="238.6" y2="649" stroke="#231f20" stroke-width="2.2"/>
<line x1="394.2" y1="637" x2="394.2" y2="649" stroke="#231f20" stroke-width="2.2"/>
<line x1="549.8" y1="637" x2="549.8" y2="649" stroke="#231f20" stroke-width="2.2"/>
<line x1="705.3" y1="637" x2="705.3" y2="649" stroke="#231f20" stroke-width="2.2"/>
<line x1="860.7" y1="637" x2="860.7" y2="649" stroke="#231f20" stroke-width="2.2"/>
<line x1="1016.1" y1="637" x2="1016.1" y2="649" stroke="#231f20" stroke-width="2.2"/>
<line x1="395.9" y1="686.8" x2="388.5" y2="712.6" stroke="#231f20" stroke-width="2.1"/>
<line x1="401.3" y1="686.8" x2="411.4" y2="712.6" stroke="#231f20" stroke-width="2.1"/>
<line x1="461.3" y1="687.6" x2="461.3" y2="712.6" stroke="#231f20" stroke-width="2.1"/>
<g transform="translate(68.9,42.1) scale(0.94,1.0)"><path transform="translate(-28.36,0) scale(0.01245,-0.01245)" d="M515 0V1237L197 1010V1180L530 1409H696V0Z" class="g1"/><text x="-14.18" y="0" font-size="25.5" class="t">0</text></g>
<g transform="translate(68.9,94.7) scale(0.94,1.0)"><text x="-14.18" y="0" font-size="25.5" class="t">5</text></g>
<g transform="translate(68.9,150.6) scale(0.94,1.0)"><text x="-14.18" y="0" font-size="25.5" class="t">0</text></g>
<g transform="translate(68.9,202.8) scale(0.94,1.0)"><text x="-28.36" y="0" font-size="25.5" class="t">80</text></g>
<g transform="translate(68.9,228.5) scale(0.94,1.0)"><text x="-28.36" y="0" font-size="25.5" class="t">60</text></g>
<g transform="translate(68.9,258.4) scale(0.94,1.0)"><text x="-28.36" y="0" font-size="25.5" class="t">40</text></g>
<g transform="translate(68.9,288.5) scale(0.94,1.0)"><text x="-28.36" y="0" font-size="25.5" class="t">20</text></g>
<g transform="translate(68.9,314.7) scale(0.94,1.0)"><text x="-14.18" y="0" font-size="25.5" class="t">0</text></g>
<g transform="translate(68.9,531.2) scale(0.94,1.0)"><text x="-28.36" y="0" font-size="25.5" class="t">80</text></g>
<g transform="translate(68.9,560.7) scale(0.94,1.0)"><text x="-28.36" y="0" font-size="25.5" class="t">60</text></g>
<g transform="translate(68.9,589.7) scale(0.94,1.0)"><text x="-28.36" y="0" font-size="25.5" class="t">40</text></g>
<g transform="translate(68.9,615.7) scale(0.94,1.0)"><text x="-28.36" y="0" font-size="25.5" class="t">20</text></g>
<g transform="translate(68.9,645.8) scale(0.94,1.0)"><text x="-14.18" y="0" font-size="25.5" class="t">0</text></g>
<g transform="translate(83,675.7) scale(0.94,1.0)"><text x="-7.09" y="0" font-size="25.5" class="t">0</text></g>
<g transform="translate(237.6,675.7) scale(0.94,1.0)"><path transform="translate(-14.18,0) scale(0.01245,-0.01245)" d="M515 0V1237L197 1010V1180L530 1409H696V0Z" class="g1"/><text x="0.00" y="0" font-size="25.5" class="t">0</text></g>
<g transform="translate(392.4,675.7) scale(0.94,1.0)"><text x="-14.18" y="0" font-size="25.5" class="t">20</text></g>
<g transform="translate(548.8,675.7) scale(0.94,1.0)"><text x="-14.18" y="0" font-size="25.5" class="t">30</text></g>
<g transform="translate(704.3,675.7) scale(0.94,1.0)"><text x="-14.18" y="0" font-size="25.5" class="t">40</text></g>
<g transform="translate(859.7,675.7) scale(0.94,1.0)"><text x="-14.18" y="0" font-size="25.5" class="t">50</text></g>
<g transform="translate(1015.1,675.7) scale(0.94,1.0)"><text x="-14.18" y="0" font-size="25.5" class="t">60</text></g>
<text transform="translate(0.4,28.3) scale(1.12,1)" font-size="30.5" class="tb">a</text>
<text transform="translate(0.4,193.3) scale(1.12,1)" font-size="30.5" class="tb">b</text>
<text transform="translate(0.4,405) scale(1.12,1)" font-size="30.5" class="tb">c</text>
<text transform="translate(0.4,523.9) scale(1.12,1)" font-size="30.5" class="tb">d</text>
<g transform="translate(376.7,716.7) rotate(90) scale(1.0,1.06)"><text x="0.00" y="0" font-size="29.0" class="t">z</text><path transform="translate(14.50,0) scale(0.01416,-0.01416)" d="M515 0V1237L197 1010V1180L530 1409H696V0Z" class="g1"/><text x="30.63" y="0" font-size="29.0" class="t">0280</text></g>
<g transform="translate(401.8,717.2) rotate(90) scale(1.0,1.06)"><text x="0.00" y="0" font-size="28.7" class="t">BX537</text><path transform="translate(86.17,0) scale(0.01401,-0.01401)" d="M515 0V1237L197 1010V1180L530 1409H696V0Z" class="g1"/><text x="102.13" y="0" font-size="28.7" class="t">56</text></g>
<g transform="translate(450.8,716.7) rotate(90) scale(1.0,1.06)"><text x="0.00" y="0" font-size="28.6" class="t">z20450</text></g>
</svg>
</body></html>
